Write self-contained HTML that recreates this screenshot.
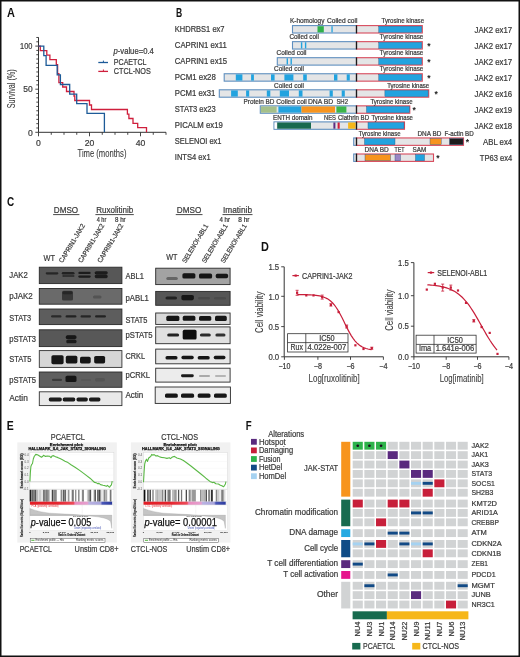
<!DOCTYPE html>
<html><head><meta charset="utf-8"><style>
html,body{margin:0;padding:0;background:#fff;overflow:hidden;width:520px;height:657px;}
svg{display:block;font-family:"Liberation Sans", sans-serif;will-change:transform;}
</style></head><body>
<svg width="520" height="657" viewBox="0 0 520 657">
<rect x="0" y="0" width="520" height="657" fill="#fff"/>
<text x="7.00" y="16.80" font-size="12.0" textLength="7.90" lengthAdjust="spacingAndGlyphs" font-weight="bold" fill="#111">A</text>
<line x1="38.50" y1="37.30" x2="38.50" y2="132.30" stroke="#333" stroke-width="1"/>
<line x1="35.30" y1="132.30" x2="38.50" y2="132.30" stroke="#333" stroke-width="0.9"/>
<line x1="36.30" y1="127.99" x2="38.50" y2="127.99" stroke="#333" stroke-width="0.9"/>
<line x1="36.30" y1="123.68" x2="38.50" y2="123.68" stroke="#333" stroke-width="0.9"/>
<line x1="36.30" y1="119.37" x2="38.50" y2="119.37" stroke="#333" stroke-width="0.9"/>
<line x1="36.30" y1="115.06" x2="38.50" y2="115.06" stroke="#333" stroke-width="0.9"/>
<line x1="36.30" y1="110.75" x2="38.50" y2="110.75" stroke="#333" stroke-width="0.9"/>
<line x1="36.30" y1="106.44" x2="38.50" y2="106.44" stroke="#333" stroke-width="0.9"/>
<line x1="36.30" y1="102.13" x2="38.50" y2="102.13" stroke="#333" stroke-width="0.9"/>
<line x1="36.30" y1="97.82" x2="38.50" y2="97.82" stroke="#333" stroke-width="0.9"/>
<line x1="36.30" y1="93.51" x2="38.50" y2="93.51" stroke="#333" stroke-width="0.9"/>
<line x1="35.30" y1="89.20" x2="38.50" y2="89.20" stroke="#333" stroke-width="0.9"/>
<line x1="36.30" y1="84.89" x2="38.50" y2="84.89" stroke="#333" stroke-width="0.9"/>
<line x1="36.30" y1="80.58" x2="38.50" y2="80.58" stroke="#333" stroke-width="0.9"/>
<line x1="36.30" y1="76.27" x2="38.50" y2="76.27" stroke="#333" stroke-width="0.9"/>
<line x1="36.30" y1="71.96" x2="38.50" y2="71.96" stroke="#333" stroke-width="0.9"/>
<line x1="36.30" y1="67.65" x2="38.50" y2="67.65" stroke="#333" stroke-width="0.9"/>
<line x1="36.30" y1="63.34" x2="38.50" y2="63.34" stroke="#333" stroke-width="0.9"/>
<line x1="36.30" y1="59.03" x2="38.50" y2="59.03" stroke="#333" stroke-width="0.9"/>
<line x1="36.30" y1="54.72" x2="38.50" y2="54.72" stroke="#333" stroke-width="0.9"/>
<line x1="36.30" y1="50.41" x2="38.50" y2="50.41" stroke="#333" stroke-width="0.9"/>
<line x1="35.30" y1="46.10" x2="38.50" y2="46.10" stroke="#333" stroke-width="0.9"/>
<line x1="36.30" y1="41.79" x2="38.50" y2="41.79" stroke="#333" stroke-width="0.9"/>
<line x1="36.30" y1="37.48" x2="38.50" y2="37.48" stroke="#333" stroke-width="0.9"/>
<line x1="38.50" y1="132.30" x2="166.00" y2="132.30" stroke="#333" stroke-width="1"/>
<line x1="38.50" y1="132.30" x2="38.50" y2="136.30" stroke="#333" stroke-width="0.9"/>
<line x1="51.25" y1="132.30" x2="51.25" y2="134.80" stroke="#333" stroke-width="0.9"/>
<line x1="64.00" y1="132.30" x2="64.00" y2="134.80" stroke="#333" stroke-width="0.9"/>
<line x1="76.75" y1="132.30" x2="76.75" y2="134.80" stroke="#333" stroke-width="0.9"/>
<line x1="89.50" y1="132.30" x2="89.50" y2="136.30" stroke="#333" stroke-width="0.9"/>
<line x1="102.25" y1="132.30" x2="102.25" y2="134.80" stroke="#333" stroke-width="0.9"/>
<line x1="115.00" y1="132.30" x2="115.00" y2="134.80" stroke="#333" stroke-width="0.9"/>
<line x1="127.75" y1="132.30" x2="127.75" y2="134.80" stroke="#333" stroke-width="0.9"/>
<line x1="140.50" y1="132.30" x2="140.50" y2="136.30" stroke="#333" stroke-width="0.9"/>
<line x1="153.25" y1="132.30" x2="153.25" y2="134.80" stroke="#333" stroke-width="0.9"/>
<line x1="166.00" y1="132.30" x2="166.00" y2="134.80" stroke="#333" stroke-width="0.9"/>
<text x="32.40" y="49.30" font-size="9.0" text-anchor="end" textLength="12.40" lengthAdjust="spacingAndGlyphs" fill="#3a3a3a" stroke="#3a3a3a" stroke-width="0.22">100</text>
<text x="32.60" y="92.40" font-size="9.0" text-anchor="end" textLength="9.40" lengthAdjust="spacingAndGlyphs" fill="#3a3a3a" stroke="#3a3a3a" stroke-width="0.22">50</text>
<text x="32.70" y="135.50" font-size="9.0" text-anchor="end" textLength="4.80" lengthAdjust="spacingAndGlyphs" fill="#3a3a3a" stroke="#3a3a3a" stroke-width="0.22">0</text>
<text x="38.50" y="145.60" font-size="9.0" text-anchor="middle" textLength="4.80" lengthAdjust="spacingAndGlyphs" fill="#3a3a3a" stroke="#3a3a3a" stroke-width="0.22">0</text>
<text x="89.50" y="145.60" font-size="9.0" text-anchor="middle" textLength="9.60" lengthAdjust="spacingAndGlyphs" fill="#3a3a3a" stroke="#3a3a3a" stroke-width="0.22">20</text>
<text x="140.50" y="145.60" font-size="9.0" text-anchor="middle" textLength="9.60" lengthAdjust="spacingAndGlyphs" fill="#3a3a3a" stroke="#3a3a3a" stroke-width="0.22">40</text>
<text x="15.00" y="88.80" font-size="10.0" text-anchor="middle" textLength="38.90" lengthAdjust="spacingAndGlyphs" fill="#3a3a3a" transform="rotate(-90 15.00 88.80)" stroke="#3a3a3a" stroke-width="0.08">Survival (%)</text>
<text x="102.00" y="157.20" font-size="10.0" text-anchor="middle" textLength="49.00" lengthAdjust="spacingAndGlyphs" fill="#3a3a3a" stroke="#3a3a3a" stroke-width="0.08">Time (months)</text>
<text x="113.5" y="53.8" font-size="8.6" fill="#3a3a3a" stroke="#3a3a3a" stroke-width="0.22" textLength="40.3" lengthAdjust="spacingAndGlyphs"><tspan font-style="italic">p</tspan>-value=0.4</text>
<line x1="98.30" y1="62.50" x2="108.00" y2="62.50" stroke="#1d5b98" stroke-width="1.3"/>
<line x1="103.40" y1="60.60" x2="103.40" y2="62.50" stroke="#1d5b98" stroke-width="1"/>
<line x1="98.30" y1="71.40" x2="108.00" y2="71.40" stroke="#cf1f3c" stroke-width="1.3"/>
<line x1="103.40" y1="69.50" x2="103.40" y2="71.40" stroke="#cf1f3c" stroke-width="1"/>
<text x="113.80" y="65.20" font-size="8.8" textLength="32.70" lengthAdjust="spacingAndGlyphs" fill="#3a3a3a" stroke="#3a3a3a" stroke-width="0.22">PCAETCL</text>
<text x="113.80" y="74.10" font-size="8.8" textLength="36.90" lengthAdjust="spacingAndGlyphs" fill="#3a3a3a" stroke="#3a3a3a" stroke-width="0.22">CTCL-NOS</text>
<path d="M38.5,46.1 H40.3 V50.6 H46.8 V55.2 H49.9 V59.7 H56.3 V64.6 H57.6 V73.7 H58.9 V82.6 H62.7 V87.0 H66.5 V91.5 H74.0 V96.0 H74.8 V100.5 H89.5 V105.0 H91.5 V109.5 H127.4 V114.2 H128.9 V118.5 H133 V123.4 H137.7 V127.7 H146.5 V132.3" stroke="#cf1f3c" stroke-width="1.3" fill="none"/>
<path d="M38.5,46.1 H43.8 V55.7 H46.1 V65.3 H57.2 V74.9 H60.4 V84.5 H69.7 V94.1 H76.7 V103.7 H87 V113.3 H104.4 V132.3" stroke="#1d5b98" stroke-width="1.3" fill="none"/>
<text x="176.00" y="16.80" font-size="12.0" textLength="6.20" lengthAdjust="spacingAndGlyphs" font-weight="bold" fill="#111">B</text>
<text x="174.80" y="31.90" font-size="8.3" textLength="49.70" lengthAdjust="spacingAndGlyphs" fill="#3a3a3a" stroke="#3a3a3a" stroke-width="0.22">KHDRBS1 ex7</text>
<text x="174.80" y="47.95" font-size="8.3" textLength="52.00" lengthAdjust="spacingAndGlyphs" fill="#3a3a3a" stroke="#3a3a3a" stroke-width="0.22">CAPRIN1 ex11</text>
<text x="174.80" y="64.00" font-size="8.3" textLength="52.30" lengthAdjust="spacingAndGlyphs" fill="#3a3a3a" stroke="#3a3a3a" stroke-width="0.22">CAPRIN1 ex15</text>
<text x="174.80" y="80.05" font-size="8.3" textLength="41.00" lengthAdjust="spacingAndGlyphs" fill="#3a3a3a" stroke="#3a3a3a" stroke-width="0.22">PCM1 ex28</text>
<text x="174.80" y="96.10" font-size="8.3" textLength="40.50" lengthAdjust="spacingAndGlyphs" fill="#3a3a3a" stroke="#3a3a3a" stroke-width="0.22">PCM1 ex31</text>
<text x="174.80" y="112.15" font-size="8.3" textLength="41.00" lengthAdjust="spacingAndGlyphs" fill="#3a3a3a" stroke="#3a3a3a" stroke-width="0.22">STAT3 ex23</text>
<text x="174.80" y="128.20" font-size="8.3" textLength="48.00" lengthAdjust="spacingAndGlyphs" fill="#3a3a3a" stroke="#3a3a3a" stroke-width="0.22">PICALM ex19</text>
<text x="174.80" y="144.25" font-size="8.3" textLength="46.70" lengthAdjust="spacingAndGlyphs" fill="#3a3a3a" stroke="#3a3a3a" stroke-width="0.22">SELENOI ex1</text>
<text x="174.80" y="160.30" font-size="8.3" textLength="35.80" lengthAdjust="spacingAndGlyphs" fill="#3a3a3a" stroke="#3a3a3a" stroke-width="0.22">INTS4 ex1</text>
<text x="512.20" y="32.80" font-size="8.3" text-anchor="end" textLength="37.70" lengthAdjust="spacingAndGlyphs" fill="#3a3a3a" stroke="#3a3a3a" stroke-width="0.22">JAK2 ex17</text>
<text x="512.20" y="48.85" font-size="8.3" text-anchor="end" textLength="37.70" lengthAdjust="spacingAndGlyphs" fill="#3a3a3a" stroke="#3a3a3a" stroke-width="0.22">JAK2 ex17</text>
<text x="512.20" y="64.90" font-size="8.3" text-anchor="end" textLength="37.70" lengthAdjust="spacingAndGlyphs" fill="#3a3a3a" stroke="#3a3a3a" stroke-width="0.22">JAK2 ex17</text>
<text x="512.20" y="80.95" font-size="8.3" text-anchor="end" textLength="37.70" lengthAdjust="spacingAndGlyphs" fill="#3a3a3a" stroke="#3a3a3a" stroke-width="0.22">JAK2 ex17</text>
<text x="512.20" y="97.00" font-size="8.3" text-anchor="end" textLength="37.70" lengthAdjust="spacingAndGlyphs" fill="#3a3a3a" stroke="#3a3a3a" stroke-width="0.22">JAK2 ex16</text>
<text x="512.20" y="113.05" font-size="8.3" text-anchor="end" textLength="37.70" lengthAdjust="spacingAndGlyphs" fill="#3a3a3a" stroke="#3a3a3a" stroke-width="0.22">JAK2 ex19</text>
<text x="512.20" y="129.10" font-size="8.3" text-anchor="end" textLength="37.70" lengthAdjust="spacingAndGlyphs" fill="#3a3a3a" stroke="#3a3a3a" stroke-width="0.22">JAK2 ex18</text>
<text x="512.20" y="145.15" font-size="8.3" text-anchor="end" textLength="29.20" lengthAdjust="spacingAndGlyphs" fill="#3a3a3a" stroke="#3a3a3a" stroke-width="0.22">ABL ex4</text>
<text x="512.20" y="161.20" font-size="8.3" text-anchor="end" textLength="32.40" lengthAdjust="spacingAndGlyphs" fill="#3a3a3a" stroke="#3a3a3a" stroke-width="0.22">TP63 ex4</text>
<rect x="292.50" y="25.60" width="64.00" height="7.40" fill="#e4e5e6" stroke="#5f8fbf" stroke-width="1.1"/>
<rect x="317.50" y="26.20" width="6.30" height="6.20" fill="#2fb04a"/>
<rect x="331.40" y="26.20" width="1.30" height="6.20" fill="#22a3df"/>
<rect x="356.50" y="25.60" width="65.80" height="7.40" fill="#e4e5e6" stroke="#d84a5c" stroke-width="1.1"/>
<rect x="378.80" y="26.20" width="42.90" height="6.20" fill="#22a3df" stroke="#2f4f7a" stroke-width="0.4"/>
<line x1="356.50" y1="25.30" x2="356.50" y2="33.30" stroke="#1a1a1a" stroke-width="1.3"/>
<text x="307.20" y="23.30" font-size="6.6" text-anchor="middle" textLength="34.50" lengthAdjust="spacingAndGlyphs" fill="#3a3a3a" stroke="#3a3a3a" stroke-width="0.22">K-homology</text>
<text x="342.20" y="23.30" font-size="6.6" text-anchor="middle" textLength="30.50" lengthAdjust="spacingAndGlyphs" fill="#3a3a3a" stroke="#3a3a3a" stroke-width="0.22">Coiled coil</text>
<text x="402.80" y="23.30" font-size="6.6" text-anchor="middle" textLength="42.50" lengthAdjust="spacingAndGlyphs" fill="#3a3a3a" stroke="#3a3a3a" stroke-width="0.22">Tyrosine kinase</text>
<rect x="292.50" y="41.65" width="64.00" height="7.40" fill="#e4e5e6" stroke="#5f8fbf" stroke-width="1.1"/>
<rect x="300.90" y="42.25" width="1.40" height="6.20" fill="#22a3df"/>
<rect x="304.90" y="42.25" width="1.40" height="6.20" fill="#22a3df"/>
<rect x="356.50" y="41.65" width="65.80" height="7.40" fill="#e4e5e6" stroke="#d84a5c" stroke-width="1.1"/>
<rect x="378.80" y="42.25" width="42.90" height="6.20" fill="#22a3df" stroke="#2f4f7a" stroke-width="0.4"/>
<line x1="356.50" y1="41.35" x2="356.50" y2="49.35" stroke="#1a1a1a" stroke-width="1.3"/>
<text x="304.20" y="39.35" font-size="6.6" text-anchor="middle" textLength="29.50" lengthAdjust="spacingAndGlyphs" fill="#3a3a3a" stroke="#3a3a3a" stroke-width="0.22">Coiled coil</text>
<text x="401.50" y="39.35" font-size="6.6" text-anchor="middle" textLength="43.50" lengthAdjust="spacingAndGlyphs" fill="#3a3a3a" stroke="#3a3a3a" stroke-width="0.22">Tyrosine kinase</text>
<text x="429.00" y="48.95" font-size="8.5" text-anchor="middle" font-weight="bold" fill="#222">*</text>
<rect x="277.30" y="57.70" width="79.20" height="7.40" fill="#e4e5e6" stroke="#5f8fbf" stroke-width="1.1"/>
<rect x="286.60" y="58.30" width="1.40" height="6.20" fill="#22a3df"/>
<rect x="290.50" y="58.30" width="1.40" height="6.20" fill="#22a3df"/>
<rect x="356.50" y="57.70" width="65.80" height="7.40" fill="#e4e5e6" stroke="#d84a5c" stroke-width="1.1"/>
<rect x="378.80" y="58.30" width="42.90" height="6.20" fill="#22a3df" stroke="#2f4f7a" stroke-width="0.4"/>
<line x1="356.50" y1="57.40" x2="356.50" y2="65.40" stroke="#1a1a1a" stroke-width="1.3"/>
<text x="291.50" y="55.40" font-size="6.6" text-anchor="middle" textLength="30.00" lengthAdjust="spacingAndGlyphs" fill="#3a3a3a" stroke="#3a3a3a" stroke-width="0.22">Coiled coil</text>
<text x="401.50" y="55.40" font-size="6.6" text-anchor="middle" textLength="43.50" lengthAdjust="spacingAndGlyphs" fill="#3a3a3a" stroke="#3a3a3a" stroke-width="0.22">Tyrosine kinase</text>
<text x="429.00" y="65.00" font-size="8.5" text-anchor="middle" font-weight="bold" fill="#222">*</text>
<rect x="224.20" y="73.75" width="132.30" height="7.40" fill="#e4e5e6" stroke="#5f8fbf" stroke-width="1.1"/>
<rect x="235.80" y="74.35" width="6.60" height="6.20" fill="#22a3df"/>
<rect x="251.10" y="74.35" width="2.80" height="6.20" fill="#22a3df"/>
<rect x="271.00" y="74.35" width="3.60" height="6.20" fill="#22a3df"/>
<rect x="284.40" y="74.35" width="9.00" height="6.20" fill="#22a3df"/>
<rect x="303.20" y="74.35" width="3.60" height="6.20" fill="#22a3df"/>
<rect x="334.00" y="74.35" width="3.40" height="6.20" fill="#22a3df"/>
<rect x="346.70" y="74.35" width="3.10" height="6.20" fill="#22a3df"/>
<rect x="356.50" y="73.75" width="65.80" height="7.40" fill="#e4e5e6" stroke="#d84a5c" stroke-width="1.1"/>
<rect x="378.80" y="74.35" width="42.90" height="6.20" fill="#22a3df" stroke="#2f4f7a" stroke-width="0.4"/>
<line x1="356.50" y1="73.45" x2="356.50" y2="81.45" stroke="#1a1a1a" stroke-width="1.3"/>
<text x="289.00" y="71.45" font-size="6.6" text-anchor="middle" textLength="30.00" lengthAdjust="spacingAndGlyphs" fill="#3a3a3a" stroke="#3a3a3a" stroke-width="0.22">Coiled coil</text>
<text x="401.50" y="71.45" font-size="6.6" text-anchor="middle" textLength="43.50" lengthAdjust="spacingAndGlyphs" fill="#3a3a3a" stroke="#3a3a3a" stroke-width="0.22">Tyrosine kinase</text>
<text x="429.00" y="81.05" font-size="8.5" text-anchor="middle" font-weight="bold" fill="#222">*</text>
<rect x="219.30" y="89.80" width="137.20" height="7.40" fill="#e4e5e6" stroke="#5f8fbf" stroke-width="1.1"/>
<rect x="231.10" y="90.40" width="6.70" height="6.20" fill="#22a3df"/>
<rect x="246.10" y="90.40" width="3.10" height="6.20" fill="#22a3df"/>
<rect x="266.80" y="90.40" width="3.50" height="6.20" fill="#22a3df"/>
<rect x="279.80" y="90.40" width="9.20" height="6.20" fill="#22a3df"/>
<rect x="298.80" y="90.40" width="3.70" height="6.20" fill="#22a3df"/>
<rect x="329.60" y="90.40" width="3.20" height="6.20" fill="#22a3df"/>
<rect x="341.70" y="90.40" width="3.10" height="6.20" fill="#22a3df"/>
<rect x="356.50" y="89.80" width="72.20" height="7.40" fill="#e4e5e6" stroke="#d84a5c" stroke-width="1.1"/>
<rect x="384.90" y="90.40" width="43.20" height="6.20" fill="#22a3df" stroke="#2f4f7a" stroke-width="0.4"/>
<line x1="356.50" y1="89.50" x2="356.50" y2="97.50" stroke="#1a1a1a" stroke-width="1.3"/>
<text x="289.00" y="87.50" font-size="6.6" text-anchor="middle" textLength="30.00" lengthAdjust="spacingAndGlyphs" fill="#3a3a3a" stroke="#3a3a3a" stroke-width="0.22">Coiled coil</text>
<text x="408.20" y="87.50" font-size="6.6" text-anchor="middle" textLength="42.00" lengthAdjust="spacingAndGlyphs" fill="#3a3a3a" stroke="#3a3a3a" stroke-width="0.22">Tyrosine kinase</text>
<text x="436.20" y="97.10" font-size="8.5" text-anchor="middle" font-weight="bold" fill="#222">*</text>
<rect x="260.30" y="105.85" width="96.20" height="7.40" fill="#e4e5e6" stroke="#5f8fbf" stroke-width="1.1"/>
<rect x="260.80" y="106.45" width="15.80" height="6.20" fill="#a5c08a"/>
<rect x="278.40" y="106.45" width="23.10" height="6.20" fill="#22a3df"/>
<rect x="301.50" y="106.45" width="33.50" height="6.20" fill="#f7941e"/>
<rect x="336.40" y="106.45" width="10.00" height="6.20" fill="#3bb54a"/>
<rect x="356.50" y="105.85" width="53.30" height="7.40" fill="#e4e5e6" stroke="#d84a5c" stroke-width="1.1"/>
<rect x="366.50" y="106.45" width="42.90" height="6.20" fill="#22a3df" stroke="#2f4f7a" stroke-width="0.4"/>
<line x1="356.50" y1="105.55" x2="356.50" y2="113.55" stroke="#1a1a1a" stroke-width="1.3"/>
<text x="259.00" y="103.55" font-size="6.6" text-anchor="middle" textLength="31.00" lengthAdjust="spacingAndGlyphs" fill="#3a3a3a" stroke="#3a3a3a" stroke-width="0.22">Protein BD</text>
<text x="291.50" y="103.55" font-size="6.6" text-anchor="middle" textLength="30.60" lengthAdjust="spacingAndGlyphs" fill="#3a3a3a" stroke="#3a3a3a" stroke-width="0.22">Coiled coil</text>
<text x="320.60" y="103.55" font-size="6.6" text-anchor="middle" textLength="25.40" lengthAdjust="spacingAndGlyphs" fill="#3a3a3a" stroke="#3a3a3a" stroke-width="0.22">DNA BD</text>
<text x="342.20" y="103.55" font-size="6.6" text-anchor="middle" textLength="11.60" lengthAdjust="spacingAndGlyphs" fill="#3a3a3a" stroke="#3a3a3a" stroke-width="0.22">SH2</text>
<text x="391.50" y="103.55" font-size="6.6" text-anchor="middle" textLength="42.20" lengthAdjust="spacingAndGlyphs" fill="#3a3a3a" stroke="#3a3a3a" stroke-width="0.22">Tyrosine kinase</text>
<text x="414.20" y="113.15" font-size="8.5" text-anchor="middle" font-weight="bold" fill="#222">*</text>
<rect x="274.00" y="121.90" width="82.50" height="7.40" fill="#e4e5e6" stroke="#5f8fbf" stroke-width="1.1"/>
<rect x="274.60" y="122.50" width="2.20" height="6.20" fill="#ffffff"/>
<rect x="277.20" y="122.50" width="33.80" height="6.20" fill="#17694f"/>
<rect x="333.40" y="122.50" width="2.00" height="6.20" fill="#5a2d82"/>
<rect x="337.60" y="122.50" width="2.10" height="6.20" fill="#cf1f3c"/>
<rect x="348.10" y="122.50" width="7.50" height="6.20" fill="#f6b719"/>
<rect x="356.50" y="121.90" width="48.00" height="7.40" fill="#e4e5e6" stroke="#d84a5c" stroke-width="1.1"/>
<rect x="368.00" y="122.50" width="36.00" height="6.20" fill="#22a3df" stroke="#2f4f7a" stroke-width="0.4"/>
<line x1="356.50" y1="121.60" x2="356.50" y2="129.60" stroke="#1a1a1a" stroke-width="1.3"/>
<text x="292.70" y="119.60" font-size="6.6" text-anchor="middle" textLength="39.50" lengthAdjust="spacingAndGlyphs" fill="#3a3a3a" stroke="#3a3a3a" stroke-width="0.22">ENTH domain</text>
<text x="330.00" y="119.60" font-size="6.6" text-anchor="middle" textLength="12.00" lengthAdjust="spacingAndGlyphs" fill="#3a3a3a" stroke="#3a3a3a" stroke-width="0.22">NES</text>
<text x="353.50" y="119.60" font-size="6.6" text-anchor="middle" textLength="31.20" lengthAdjust="spacingAndGlyphs" fill="#3a3a3a" stroke="#3a3a3a" stroke-width="0.22">Clathrin BD</text>
<text x="392.20" y="119.60" font-size="6.6" text-anchor="middle" textLength="41.50" lengthAdjust="spacingAndGlyphs" fill="#3a3a3a" stroke="#3a3a3a" stroke-width="0.22">Tyrosine kinase</text>
<rect x="353.70" y="137.95" width="2.80" height="7.40" fill="#e4e5e6" stroke="#5f8fbf" stroke-width="1.1"/>
<rect x="356.50" y="137.95" width="107.00" height="7.40" fill="#e4e5e6" stroke="#d84a5c" stroke-width="1.1"/>
<rect x="364.50" y="138.55" width="30.50" height="6.20" fill="#22a3df" stroke="#2f4f7a" stroke-width="0.4"/>
<rect x="430.00" y="138.55" width="11.20" height="6.20" fill="#f7941e" stroke="#2f4f7a" stroke-width="0.4"/>
<rect x="449.50" y="138.55" width="13.50" height="6.20" fill="#1c1c1c" stroke="#2f4f7a" stroke-width="0.4"/>
<line x1="356.50" y1="137.65" x2="356.50" y2="145.65" stroke="#1a1a1a" stroke-width="1.3"/>
<text x="379.60" y="135.65" font-size="6.6" text-anchor="middle" textLength="41.80" lengthAdjust="spacingAndGlyphs" fill="#3a3a3a" stroke="#3a3a3a" stroke-width="0.22">Tyrosine kinase</text>
<text x="429.40" y="135.65" font-size="6.6" text-anchor="middle" textLength="23.80" lengthAdjust="spacingAndGlyphs" fill="#3a3a3a" stroke="#3a3a3a" stroke-width="0.22">DNA BD</text>
<text x="459.10" y="135.65" font-size="6.6" text-anchor="middle" textLength="29.30" lengthAdjust="spacingAndGlyphs" fill="#3a3a3a" stroke="#3a3a3a" stroke-width="0.22">F-actin BD</text>
<text x="467.50" y="145.25" font-size="8.5" text-anchor="middle" font-weight="bold" fill="#222">*</text>
<rect x="353.70" y="154.00" width="2.80" height="7.40" fill="#e4e5e6" stroke="#5f8fbf" stroke-width="1.1"/>
<rect x="356.50" y="154.00" width="77.00" height="7.40" fill="#e4e5e6" stroke="#d84a5c" stroke-width="1.1"/>
<rect x="365.00" y="154.60" width="25.50" height="6.20" fill="#f7941e" stroke="#2f4f7a" stroke-width="0.4"/>
<rect x="395.00" y="154.60" width="5.50" height="6.20" fill="#9b86c4" stroke="#2f4f7a" stroke-width="0.4"/>
<rect x="415.50" y="154.60" width="9.00" height="6.20" fill="#22a3df" stroke="#2f4f7a" stroke-width="0.4"/>
<line x1="356.50" y1="153.70" x2="356.50" y2="161.70" stroke="#1a1a1a" stroke-width="1.3"/>
<text x="376.60" y="151.70" font-size="6.6" text-anchor="middle" textLength="24.20" lengthAdjust="spacingAndGlyphs" fill="#3a3a3a" stroke="#3a3a3a" stroke-width="0.22">DNA BD</text>
<text x="399.50" y="151.70" font-size="6.6" text-anchor="middle" textLength="10.00" lengthAdjust="spacingAndGlyphs" fill="#3a3a3a" stroke="#3a3a3a" stroke-width="0.22">TET</text>
<text x="419.40" y="151.70" font-size="6.6" text-anchor="middle" textLength="13.80" lengthAdjust="spacingAndGlyphs" fill="#3a3a3a" stroke="#3a3a3a" stroke-width="0.22">SAM</text>
<text x="438.00" y="161.30" font-size="8.5" text-anchor="middle" font-weight="bold" fill="#222">*</text>
<text x="7.10" y="205.60" font-size="12.0" textLength="7.20" lengthAdjust="spacingAndGlyphs" font-weight="bold" fill="#111">C</text>
<text x="53.80" y="213.00" font-size="9.0" textLength="24.30" lengthAdjust="spacingAndGlyphs" fill="#3a3a3a" stroke="#3a3a3a" stroke-width="0.22">DMSO</text>
<line x1="53.10" y1="214.60" x2="79.40" y2="214.60" stroke="#333" stroke-width="0.9"/>
<text x="96.20" y="213.00" font-size="9.0" textLength="37.10" lengthAdjust="spacingAndGlyphs" fill="#3a3a3a" stroke="#3a3a3a" stroke-width="0.22">Ruxolitinib</text>
<line x1="95.40" y1="214.60" x2="133.80" y2="214.60" stroke="#333" stroke-width="0.9"/>
<text x="96.70" y="222.00" font-size="6.4" textLength="9.60" lengthAdjust="spacingAndGlyphs" fill="#3a3a3a" stroke="#3a3a3a" stroke-width="0.22">4 hr</text>
<text x="115.00" y="222.00" font-size="6.4" textLength="10.60" lengthAdjust="spacingAndGlyphs" fill="#3a3a3a" stroke="#3a3a3a" stroke-width="0.22">8 hr</text>
<text x="43.50" y="260.50" font-size="9.5" textLength="11.50" lengthAdjust="spacingAndGlyphs" fill="#3a3a3a" stroke="#3a3a3a" stroke-width="0.22">WT</text>
<text x="62.60" y="263.30" font-size="6.8" textLength="44.00" lengthAdjust="spacingAndGlyphs" fill="#3a3a3a" transform="rotate(-59 62.60 263.30)" stroke="#3a3a3a" stroke-width="0.22">CAPRIN1-JAK2</text>
<text x="81.80" y="263.30" font-size="6.8" textLength="44.00" lengthAdjust="spacingAndGlyphs" fill="#3a3a3a" transform="rotate(-59 81.80 263.30)" stroke="#3a3a3a" stroke-width="0.22">CAPRIN1-JAK2</text>
<text x="101.00" y="263.30" font-size="6.8" textLength="44.00" lengthAdjust="spacingAndGlyphs" fill="#3a3a3a" transform="rotate(-59 101.00 263.30)" stroke="#3a3a3a" stroke-width="0.22">CAPRIN1-JAK2</text>
<text x="176.75" y="213.00" font-size="9.0" textLength="24.50" lengthAdjust="spacingAndGlyphs" fill="#3a3a3a" stroke="#3a3a3a" stroke-width="0.22">DMSO</text>
<line x1="175.75" y1="214.60" x2="202.50" y2="214.60" stroke="#333" stroke-width="0.9"/>
<text x="223.00" y="213.00" font-size="9.0" textLength="29.00" lengthAdjust="spacingAndGlyphs" fill="#3a3a3a" stroke="#3a3a3a" stroke-width="0.22">Imatinib</text>
<line x1="222.50" y1="214.60" x2="252.50" y2="214.60" stroke="#333" stroke-width="0.9"/>
<text x="219.50" y="222.00" font-size="6.4" textLength="10.50" lengthAdjust="spacingAndGlyphs" fill="#3a3a3a" stroke="#3a3a3a" stroke-width="0.22">4 hr</text>
<text x="238.30" y="222.00" font-size="6.4" textLength="11.20" lengthAdjust="spacingAndGlyphs" fill="#3a3a3a" stroke="#3a3a3a" stroke-width="0.22">8 hr</text>
<text x="166.30" y="259.60" font-size="9.5" textLength="11.20" lengthAdjust="spacingAndGlyphs" fill="#3a3a3a" stroke="#3a3a3a" stroke-width="0.22">WT</text>
<text x="185.80" y="263.50" font-size="6.8" textLength="44.00" lengthAdjust="spacingAndGlyphs" fill="#3a3a3a" transform="rotate(-59 185.80 263.50)" stroke="#3a3a3a" stroke-width="0.22">SELENOI-ABL1</text>
<text x="205.40" y="263.50" font-size="6.8" textLength="44.00" lengthAdjust="spacingAndGlyphs" fill="#3a3a3a" transform="rotate(-59 205.40 263.50)" stroke="#3a3a3a" stroke-width="0.22">SELENOI-ABL1</text>
<text x="224.30" y="263.50" font-size="6.8" textLength="44.00" lengthAdjust="spacingAndGlyphs" fill="#3a3a3a" transform="rotate(-59 224.30 263.50)" stroke="#3a3a3a" stroke-width="0.22">SELENOI-ABL1</text>
<defs><filter id="bl" x="-30%" y="-60%" width="160%" height="220%"><feGaussianBlur stdDeviation="0.65"/></filter><filter id="bl2" x="-30%" y="-60%" width="160%" height="220%"><feGaussianBlur stdDeviation="0.9"/></filter></defs>
<rect x="39.30" y="267.20" width="82.60" height="16.40" fill="#575757" stroke="#2a2a2a" stroke-width="0.9"/>
<g filter="url(#bl)"><rect x="45.70" y="272.20" width="12.70" height="2.20" rx="1.10" fill="#262626" opacity="1"/><rect x="61.80" y="272.00" width="12.70" height="2.60" rx="1.30" fill="#222" opacity="1"/><rect x="62.30" y="275.00" width="12.20" height="2.00" rx="1.00" fill="#303030" opacity="1"/><rect x="78.30" y="271.80" width="12.40" height="2.20" rx="1.10" fill="#1c1c1c" opacity="1"/><rect x="78.30" y="275.40" width="12.40" height="2.40" rx="1.20" fill="#1c1c1c" opacity="1"/><rect x="94.70" y="271.20" width="13.00" height="3.20" rx="1.60" fill="#1a1a1a" opacity="1"/><rect x="94.70" y="274.60" width="13.00" height="3.60" rx="1.60" fill="#1e1e1e" opacity="1"/></g>
<rect x="39.30" y="288.50" width="82.60" height="15.70" fill="#6a6a6a" stroke="#2a2a2a" stroke-width="0.9"/>
<g filter="url(#bl)"><rect x="62.00" y="290.80" width="11.00" height="9.80" rx="1.60" fill="#383838" opacity="1"/><rect x="62.50" y="291.20" width="10.00" height="3.00" rx="1.50" fill="#262626" opacity="1"/><rect x="93.00" y="295.50" width="8.50" height="3.00" rx="1.50" fill="#525252" opacity="1"/></g>
<rect x="39.30" y="309.00" width="82.60" height="15.60" fill="#5d5d5d" stroke="#2a2a2a" stroke-width="0.9"/>
<g filter="url(#bl)"><rect x="51.00" y="315.30" width="10.50" height="2.30" rx="1.15" fill="#2a2a2a" opacity="1"/><rect x="65.50" y="315.30" width="11.00" height="2.30" rx="1.15" fill="#222" opacity="1"/><rect x="80.50" y="315.30" width="10.50" height="2.30" rx="1.15" fill="#262626" opacity="1"/><rect x="95.00" y="315.30" width="11.00" height="2.30" rx="1.15" fill="#222" opacity="1"/></g>
<rect x="39.30" y="329.80" width="82.60" height="16.80" fill="#585858" stroke="#2a2a2a" stroke-width="0.9"/>
<g filter="url(#bl)"><rect x="65.80" y="335.20" width="10.70" height="3.80" rx="1.60" fill="#151515" opacity="1"/><rect x="66.30" y="339.60" width="10.20" height="3.70" rx="1.60" fill="#1a1a1a" opacity="1"/></g>
<rect x="39.30" y="350.60" width="82.60" height="16.80" fill="#d6d6d6" stroke="#333" stroke-width="0.9"/>
<g filter="url(#bl)"><rect x="51.40" y="355.20" width="12.20" height="9.00" rx="1.60" fill="#141414" opacity="1"/><rect x="65.80" y="355.80" width="11.60" height="7.60" rx="1.60" fill="#141414" opacity="1"/><rect x="80.00" y="356.80" width="10.70" height="6.60" rx="1.60" fill="#141414" opacity="1"/><rect x="94.20" y="356.00" width="10.90" height="7.40" rx="1.60" fill="#141414" opacity="1"/></g>
<rect x="39.30" y="372.00" width="82.60" height="15.30" fill="#5f5f5f" stroke="#2a2a2a" stroke-width="0.9"/>
<g filter="url(#bl)"><rect x="52.00" y="378.80" width="10.00" height="2.20" rx="1.10" fill="#3a3a3a" opacity="1"/><rect x="65.50" y="375.80" width="11.00" height="6.20" rx="1.60" fill="#151515" opacity="1"/><rect x="81.00" y="379.00" width="10.00" height="2.00" rx="1.00" fill="#555" opacity="0.7"/><rect x="95.00" y="378.00" width="10.00" height="3.50" rx="1.60" fill="#505050" opacity="0.7"/></g>
<rect x="39.30" y="391.80" width="82.60" height="13.80" fill="#e9e9e9" stroke="#333" stroke-width="0.9"/>
<g filter="url(#bl)"><rect x="48.80" y="397.40" width="13.00" height="4.00" rx="1.60" fill="#1a1a1a" opacity="1"/><rect x="62.70" y="397.40" width="12.50" height="4.00" rx="1.60" fill="#1a1a1a" opacity="1"/><rect x="76.50" y="397.40" width="11.30" height="4.00" rx="1.60" fill="#1a1a1a" opacity="1"/><rect x="89.00" y="397.40" width="11.40" height="4.00" rx="1.60" fill="#1a1a1a" opacity="1"/></g>
<rect x="155.70" y="268.20" width="74.40" height="16.40" fill="#a3a3a3" stroke="#2a2a2a" stroke-width="0.9"/>
<g filter="url(#bl)"><rect x="166.30" y="277.00" width="11.50" height="3.00" rx="1.50" fill="#666" opacity="1"/><rect x="182.40" y="273.20" width="13.00" height="5.40" rx="1.60" fill="#161616" opacity="1"/><rect x="199.00" y="273.40" width="13.10" height="5.20" rx="1.60" fill="#161616" opacity="1"/><rect x="215.70" y="273.80" width="12.40" height="4.40" rx="1.60" fill="#161616" opacity="1"/></g>
<rect x="155.70" y="291.40" width="74.40" height="13.90" fill="#565656" stroke="#2a2a2a" stroke-width="0.9"/>
<g filter="url(#bl)"><rect x="165.50" y="296.40" width="11.50" height="3.20" rx="1.60" fill="#222" opacity="1"/><rect x="181.40" y="295.00" width="12.40" height="5.20" rx="1.60" fill="#151515" opacity="1"/><rect x="198.00" y="297.00" width="12.00" height="2.50" rx="1.25" fill="#4a4a4a" opacity="1"/><rect x="214.00" y="297.00" width="12.00" height="2.50" rx="1.25" fill="#4c4c4c" opacity="1"/></g>
<rect x="155.70" y="313.00" width="74.40" height="11.40" fill="#d9d9d9" stroke="#2a2a2a" stroke-width="0.9"/>
<g filter="url(#bl)"><rect x="166.30" y="315.80" width="13.10" height="5.20" rx="1.60" fill="#161616" opacity="1"/><rect x="182.70" y="315.80" width="12.70" height="5.00" rx="1.60" fill="#161616" opacity="1"/><rect x="199.00" y="316.00" width="12.30" height="4.80" rx="1.60" fill="#161616" opacity="1"/><rect x="215.00" y="315.80" width="11.80" height="5.20" rx="1.60" fill="#161616" opacity="1"/></g>
<rect x="155.70" y="326.90" width="74.40" height="16.80" fill="#e0e0e0" stroke="#2a2a2a" stroke-width="0.9"/>
<g filter="url(#bl)"><rect x="167.20" y="333.60" width="11.90" height="3.00" rx="1.50" fill="#222" opacity="1"/><rect x="182.70" y="329.80" width="13.90" height="9.80" rx="1.60" fill="#111" opacity="1"/><rect x="199.90" y="333.40" width="10.90" height="3.20" rx="1.60" fill="#2a2a2a" opacity="1"/><rect x="215.40" y="333.60" width="10.10" height="3.00" rx="1.50" fill="#333" opacity="1"/></g>
<rect x="155.70" y="349.10" width="74.40" height="14.70" fill="#e6e6e6" stroke="#2a2a2a" stroke-width="0.9"/>
<g filter="url(#bl)"><rect x="165.50" y="356.00" width="12.00" height="3.60" rx="1.60" fill="#161616" opacity="1"/><rect x="181.40" y="355.80" width="12.40" height="3.40" rx="1.60" fill="#161616" opacity="1"/><rect x="197.70" y="356.00" width="12.00" height="3.60" rx="1.60" fill="#161616" opacity="1"/><rect x="213.70" y="355.80" width="11.80" height="3.40" rx="1.60" fill="#161616" opacity="1"/></g>
<rect x="155.70" y="368.20" width="74.40" height="13.90" fill="#ececec" stroke="#2a2a2a" stroke-width="0.9"/>
<g filter="url(#bl)"><rect x="181.00" y="374.30" width="12.80" height="2.90" rx="1.45" fill="#1a1a1a" opacity="1"/><rect x="199.00" y="375.00" width="11.00" height="2.00" rx="1.00" fill="#aaa" opacity="1"/><rect x="215.00" y="375.00" width="11.00" height="2.00" rx="1.00" fill="#b5b5b5" opacity="1"/></g>
<rect x="155.20" y="387.00" width="75.20" height="16.40" fill="#ececec" stroke="#2a2a2a" stroke-width="0.9"/>
<g filter="url(#bl)"><rect x="165.00" y="393.40" width="12.80" height="4.40" rx="1.60" fill="#161616" opacity="1"/><rect x="181.00" y="393.40" width="13.10" height="4.40" rx="1.60" fill="#161616" opacity="1"/><rect x="197.70" y="393.40" width="12.80" height="4.40" rx="1.60" fill="#161616" opacity="1"/><rect x="214.00" y="393.40" width="12.80" height="4.40" rx="1.60" fill="#161616" opacity="1"/></g>
<text x="9.30" y="278.00" font-size="8.3" textLength="18.50" lengthAdjust="spacingAndGlyphs" fill="#3a3a3a" stroke="#3a3a3a" stroke-width="0.22">JAK2</text>
<text x="9.30" y="298.50" font-size="8.3" textLength="23.50" lengthAdjust="spacingAndGlyphs" fill="#3a3a3a" stroke="#3a3a3a" stroke-width="0.22">pJAK2</text>
<text x="9.30" y="321.00" font-size="8.3" textLength="21.80" lengthAdjust="spacingAndGlyphs" fill="#3a3a3a" stroke="#3a3a3a" stroke-width="0.22">STAT3</text>
<text x="9.30" y="341.70" font-size="8.3" textLength="26.80" lengthAdjust="spacingAndGlyphs" fill="#3a3a3a" stroke="#3a3a3a" stroke-width="0.22">pSTAT3</text>
<text x="9.30" y="362.00" font-size="8.3" textLength="22.20" lengthAdjust="spacingAndGlyphs" fill="#3a3a3a" stroke="#3a3a3a" stroke-width="0.22">STAT5</text>
<text x="9.30" y="383.00" font-size="8.3" textLength="26.80" lengthAdjust="spacingAndGlyphs" fill="#3a3a3a" stroke="#3a3a3a" stroke-width="0.22">pSTAT5</text>
<text x="9.30" y="400.50" font-size="8.3" textLength="18.50" lengthAdjust="spacingAndGlyphs" fill="#3a3a3a" stroke="#3a3a3a" stroke-width="0.22">Actin</text>
<text x="125.50" y="279.20" font-size="8.3" textLength="18.30" lengthAdjust="spacingAndGlyphs" fill="#3a3a3a" stroke="#3a3a3a" stroke-width="0.22">ABL1</text>
<text x="125.50" y="300.50" font-size="8.3" textLength="23.30" lengthAdjust="spacingAndGlyphs" fill="#3a3a3a" stroke="#3a3a3a" stroke-width="0.22">pABL1</text>
<text x="125.50" y="322.50" font-size="8.3" textLength="22.00" lengthAdjust="spacingAndGlyphs" fill="#3a3a3a" stroke="#3a3a3a" stroke-width="0.22">STAT5</text>
<text x="125.50" y="338.00" font-size="8.3" textLength="27.00" lengthAdjust="spacingAndGlyphs" fill="#3a3a3a" stroke="#3a3a3a" stroke-width="0.22">pSTAT5</text>
<text x="125.50" y="359.20" font-size="8.3" textLength="19.50" lengthAdjust="spacingAndGlyphs" fill="#3a3a3a" stroke="#3a3a3a" stroke-width="0.22">CRKL</text>
<text x="125.50" y="377.50" font-size="8.3" textLength="24.50" lengthAdjust="spacingAndGlyphs" fill="#3a3a3a" stroke="#3a3a3a" stroke-width="0.22">pCRKL</text>
<text x="125.50" y="397.80" font-size="8.3" textLength="17.80" lengthAdjust="spacingAndGlyphs" fill="#3a3a3a" stroke="#3a3a3a" stroke-width="0.22">Actin</text>
<text x="261.00" y="250.70" font-size="12.0" textLength="7.90" lengthAdjust="spacingAndGlyphs" font-weight="bold" fill="#111">D</text>
<line x1="284.20" y1="266.80" x2="284.20" y2="356.80" stroke="#333" stroke-width="1"/>
<line x1="284.20" y1="356.80" x2="383.40" y2="356.80" stroke="#333" stroke-width="1"/>
<line x1="281.20" y1="356.80" x2="284.20" y2="356.80" stroke="#333" stroke-width="0.9"/>
<text x="279.20" y="360.00" font-size="9.3" text-anchor="end" textLength="10.80" lengthAdjust="spacingAndGlyphs" fill="#3a3a3a" stroke="#3a3a3a" stroke-width="0.22">0.0</text>
<line x1="281.20" y1="326.60" x2="284.20" y2="326.60" stroke="#333" stroke-width="0.9"/>
<text x="279.20" y="329.80" font-size="9.3" text-anchor="end" textLength="10.80" lengthAdjust="spacingAndGlyphs" fill="#3a3a3a" stroke="#3a3a3a" stroke-width="0.22">0.5</text>
<line x1="281.20" y1="296.30" x2="284.20" y2="296.30" stroke="#333" stroke-width="0.9"/>
<text x="279.20" y="299.50" font-size="9.3" text-anchor="end" textLength="10.80" lengthAdjust="spacingAndGlyphs" fill="#3a3a3a" stroke="#3a3a3a" stroke-width="0.22">1.0</text>
<line x1="281.20" y1="266.80" x2="284.20" y2="266.80" stroke="#333" stroke-width="0.9"/>
<text x="279.20" y="270.00" font-size="9.3" text-anchor="end" textLength="10.80" lengthAdjust="spacingAndGlyphs" fill="#3a3a3a" stroke="#3a3a3a" stroke-width="0.22">1.5</text>
<line x1="284.40" y1="356.80" x2="284.40" y2="359.80" stroke="#333" stroke-width="0.9"/>
<text x="284.40" y="369.00" font-size="8.6" text-anchor="middle" textLength="12.00" lengthAdjust="spacingAndGlyphs" fill="#3a3a3a" stroke="#3a3a3a" stroke-width="0.22">−10</text>
<line x1="317.90" y1="356.80" x2="317.90" y2="359.80" stroke="#333" stroke-width="0.9"/>
<text x="317.90" y="369.00" font-size="8.6" text-anchor="middle" textLength="8.20" lengthAdjust="spacingAndGlyphs" fill="#3a3a3a" stroke="#3a3a3a" stroke-width="0.22">−8</text>
<line x1="350.50" y1="356.80" x2="350.50" y2="359.80" stroke="#333" stroke-width="0.9"/>
<text x="350.50" y="369.00" font-size="8.6" text-anchor="middle" textLength="8.20" lengthAdjust="spacingAndGlyphs" fill="#3a3a3a" stroke="#3a3a3a" stroke-width="0.22">−6</text>
<line x1="383.40" y1="356.80" x2="383.40" y2="359.80" stroke="#333" stroke-width="0.9"/>
<text x="383.40" y="369.00" font-size="8.6" text-anchor="middle" textLength="8.20" lengthAdjust="spacingAndGlyphs" fill="#3a3a3a" stroke="#3a3a3a" stroke-width="0.22">−4</text>
<text x="263.20" y="312.30" font-size="10.0" text-anchor="middle" textLength="41.20" lengthAdjust="spacingAndGlyphs" fill="#3a3a3a" transform="rotate(-90 263.20 312.30)" stroke="#3a3a3a" stroke-width="0.08">Cell viability</text>
<text x="334.10" y="381.80" font-size="10.0" text-anchor="middle" textLength="51.00" lengthAdjust="spacingAndGlyphs" fill="#3a3a3a" stroke="#3a3a3a" stroke-width="0.08">Log[ruxolitinib]</text>
<line x1="292.40" y1="275.60" x2="298.90" y2="275.60" stroke="#c81e3a" stroke-width="1.2"/>
<rect x="294.60" y="274.50" width="2.20" height="2.20" fill="#c81e3a"/>
<text x="302.00" y="278.60" font-size="8.6" textLength="50.50" lengthAdjust="spacingAndGlyphs" fill="#3a3a3a" stroke="#3a3a3a" stroke-width="0.22">CAPRIN1-JAK2</text>
<path d="M297.40,294.54 L299.26,294.56 L301.11,294.58 L302.97,294.61 L304.82,294.65 L306.68,294.71 L308.54,294.78 L310.39,294.87 L312.25,294.98 L314.11,295.14 L315.96,295.34 L317.82,295.60 L319.68,295.94 L321.53,296.38 L323.39,296.95 L325.24,297.68 L327.10,298.60 L328.96,299.77 L330.81,301.22 L332.67,303.01 L334.52,305.17 L336.38,307.72 L338.24,310.67 L340.09,313.98 L341.95,317.57 L343.81,321.34 L345.66,325.16 L347.52,328.89 L349.38,332.40 L351.23,335.59 L353.09,338.41 L354.94,340.83 L356.80,342.86 L358.66,344.53 L360.51,345.88 L362.37,346.96 L364.22,347.82 L366.08,348.49 L367.94,349.01 L369.79,349.42 L371.65,349.73" stroke="#c81e3a" stroke-width="1.2" fill="none"/>
<rect x="296.00" y="291.70" width="2.20" height="2.20" fill="#c81e3a"/>
<line x1="297.10" y1="290.30" x2="297.10" y2="295.30" stroke="#c81e3a" stroke-width="0.8"/>
<line x1="295.60" y1="290.30" x2="298.60" y2="290.30" stroke="#c81e3a" stroke-width="0.8"/>
<line x1="295.60" y1="295.30" x2="298.60" y2="295.30" stroke="#c81e3a" stroke-width="0.8"/>
<rect x="305.20" y="294.30" width="2.20" height="2.20" fill="#c81e3a"/>
<rect x="312.40" y="294.30" width="2.20" height="2.20" fill="#c81e3a"/>
<rect x="321.10" y="296.00" width="2.20" height="2.20" fill="#c81e3a"/>
<line x1="322.20" y1="295.10" x2="322.20" y2="299.10" stroke="#c81e3a" stroke-width="0.8"/>
<line x1="320.70" y1="295.10" x2="323.70" y2="295.10" stroke="#c81e3a" stroke-width="0.8"/>
<line x1="320.70" y1="299.10" x2="323.70" y2="299.10" stroke="#c81e3a" stroke-width="0.8"/>
<rect x="329.80" y="303.80" width="2.20" height="2.20" fill="#c81e3a"/>
<line x1="330.90" y1="303.70" x2="330.90" y2="306.10" stroke="#c81e3a" stroke-width="0.8"/>
<line x1="329.40" y1="303.70" x2="332.40" y2="303.70" stroke="#c81e3a" stroke-width="0.8"/>
<line x1="329.40" y1="306.10" x2="332.40" y2="306.10" stroke="#c81e3a" stroke-width="0.8"/>
<rect x="337.50" y="311.00" width="2.20" height="2.20" fill="#c81e3a"/>
<rect x="345.60" y="325.40" width="2.20" height="2.20" fill="#c81e3a"/>
<line x1="346.70" y1="325.00" x2="346.70" y2="328.00" stroke="#c81e3a" stroke-width="0.8"/>
<line x1="345.20" y1="325.00" x2="348.20" y2="325.00" stroke="#c81e3a" stroke-width="0.8"/>
<line x1="345.20" y1="328.00" x2="348.20" y2="328.00" stroke="#c81e3a" stroke-width="0.8"/>
<rect x="354.30" y="344.20" width="2.20" height="2.20" fill="#c81e3a"/>
<rect x="362.40" y="347.90" width="2.20" height="2.20" fill="#c81e3a"/>
<rect x="370.70" y="347.10" width="2.20" height="2.20" fill="#c81e3a"/>
<line x1="371.80" y1="347.20" x2="371.80" y2="349.20" stroke="#c81e3a" stroke-width="0.8"/>
<line x1="370.30" y1="347.20" x2="373.30" y2="347.20" stroke="#c81e3a" stroke-width="0.8"/>
<line x1="370.30" y1="349.20" x2="373.30" y2="349.20" stroke="#c81e3a" stroke-width="0.8"/>
<rect x="287.60" y="333.70" width="60.40" height="18.30" fill="#fff" stroke="#333" stroke-width="0.8"/>
<line x1="287.60" y1="342.60" x2="348.00" y2="342.60" stroke="#333" stroke-width="0.8"/>
<line x1="305.80" y1="333.70" x2="305.80" y2="352.00" stroke="#333" stroke-width="0.8"/>
<text x="326.90" y="340.70" font-size="8.2" text-anchor="middle" textLength="15.50" lengthAdjust="spacingAndGlyphs" fill="#3a3a3a" stroke="#3a3a3a" stroke-width="0.22">IC50</text>
<text x="296.70" y="350.00" font-size="8.2" text-anchor="middle" textLength="12.30" lengthAdjust="spacingAndGlyphs" fill="#3a3a3a" stroke="#3a3a3a" stroke-width="0.22">Rux</text>
<text x="326.90" y="350.00" font-size="8.2" text-anchor="middle" textLength="38.70" lengthAdjust="spacingAndGlyphs" fill="#3a3a3a" stroke="#3a3a3a" stroke-width="0.22">4.022e-007</text>
<line x1="413.90" y1="262.60" x2="413.90" y2="356.80" stroke="#333" stroke-width="1"/>
<line x1="413.90" y1="356.80" x2="508.90" y2="356.80" stroke="#333" stroke-width="1"/>
<line x1="410.90" y1="356.80" x2="413.90" y2="356.80" stroke="#333" stroke-width="0.9"/>
<text x="408.90" y="360.00" font-size="9.3" text-anchor="end" textLength="10.80" lengthAdjust="spacingAndGlyphs" fill="#3a3a3a" stroke="#3a3a3a" stroke-width="0.22">0.0</text>
<line x1="410.90" y1="326.20" x2="413.90" y2="326.20" stroke="#333" stroke-width="0.9"/>
<text x="408.90" y="329.40" font-size="9.3" text-anchor="end" textLength="10.80" lengthAdjust="spacingAndGlyphs" fill="#3a3a3a" stroke="#3a3a3a" stroke-width="0.22">0.5</text>
<line x1="410.90" y1="295.70" x2="413.90" y2="295.70" stroke="#333" stroke-width="0.9"/>
<text x="408.90" y="298.90" font-size="9.3" text-anchor="end" textLength="10.80" lengthAdjust="spacingAndGlyphs" fill="#3a3a3a" stroke="#3a3a3a" stroke-width="0.22">1.0</text>
<line x1="410.90" y1="262.60" x2="413.90" y2="262.60" stroke="#333" stroke-width="0.9"/>
<text x="408.90" y="265.80" font-size="9.3" text-anchor="end" textLength="10.80" lengthAdjust="spacingAndGlyphs" fill="#3a3a3a" stroke="#3a3a3a" stroke-width="0.22">1.5</text>
<line x1="413.90" y1="356.80" x2="413.90" y2="359.80" stroke="#333" stroke-width="0.9"/>
<text x="413.90" y="369.00" font-size="8.6" text-anchor="middle" textLength="12.00" lengthAdjust="spacingAndGlyphs" fill="#3a3a3a" stroke="#3a3a3a" stroke-width="0.22">−10</text>
<line x1="446.20" y1="356.80" x2="446.20" y2="359.80" stroke="#333" stroke-width="0.9"/>
<text x="446.20" y="369.00" font-size="8.6" text-anchor="middle" textLength="8.20" lengthAdjust="spacingAndGlyphs" fill="#3a3a3a" stroke="#3a3a3a" stroke-width="0.22">−8</text>
<line x1="477.50" y1="356.80" x2="477.50" y2="359.80" stroke="#333" stroke-width="0.9"/>
<text x="477.50" y="369.00" font-size="8.6" text-anchor="middle" textLength="8.20" lengthAdjust="spacingAndGlyphs" fill="#3a3a3a" stroke="#3a3a3a" stroke-width="0.22">−6</text>
<line x1="508.90" y1="356.80" x2="508.90" y2="359.80" stroke="#333" stroke-width="0.9"/>
<text x="508.90" y="369.00" font-size="8.6" text-anchor="middle" textLength="8.20" lengthAdjust="spacingAndGlyphs" fill="#3a3a3a" stroke="#3a3a3a" stroke-width="0.22">−4</text>
<text x="392.90" y="310.20" font-size="10.0" text-anchor="middle" textLength="41.20" lengthAdjust="spacingAndGlyphs" fill="#3a3a3a" transform="rotate(-90 392.90 310.20)" stroke="#3a3a3a" stroke-width="0.08">Cell viability</text>
<text x="461.70" y="381.80" font-size="10.0" text-anchor="middle" textLength="44.00" lengthAdjust="spacingAndGlyphs" fill="#3a3a3a" stroke="#3a3a3a" stroke-width="0.08">Log[imatinib]</text>
<line x1="427.70" y1="272.60" x2="434.20" y2="272.60" stroke="#c81e3a" stroke-width="1.2"/>
<rect x="429.90" y="271.50" width="2.20" height="2.20" fill="#c81e3a"/>
<text x="437.30" y="275.60" font-size="8.6" textLength="49.90" lengthAdjust="spacingAndGlyphs" fill="#3a3a3a" stroke="#3a3a3a" stroke-width="0.22">SELENOI-ABL1</text>
<path d="M427.36,284.84 L429.10,284.96 L430.84,285.10 L432.58,285.26 L434.32,285.45 L436.07,285.67 L437.81,285.92 L439.55,286.21 L441.29,286.55 L443.03,286.94 L444.77,287.39 L446.52,287.91 L448.26,288.50 L450.00,289.18 L451.74,289.96 L453.48,290.84 L455.22,291.84 L456.97,292.98 L458.71,294.26 L460.45,295.69 L462.19,297.29 L463.93,299.07 L465.67,301.02 L467.42,303.16 L469.16,305.47 L470.90,307.97 L472.64,310.63 L474.38,313.43 L476.12,316.36 L477.87,319.39 L479.61,322.49 L481.35,325.62 L483.09,328.74 L484.83,331.83 L486.57,334.85 L488.32,337.76 L490.06,340.54 L491.80,343.17 L493.54,345.63 L495.28,347.91 L497.02,350.02" stroke="#c81e3a" stroke-width="1.2" fill="none"/>
<rect x="425.70" y="288.50" width="2.20" height="2.20" fill="#c81e3a"/>
<rect x="433.80" y="282.70" width="2.20" height="2.20" fill="#c81e3a"/>
<rect x="441.60" y="286.50" width="2.20" height="2.20" fill="#c81e3a"/>
<line x1="442.70" y1="284.10" x2="442.70" y2="291.10" stroke="#c81e3a" stroke-width="0.8"/>
<line x1="441.20" y1="284.10" x2="444.20" y2="284.10" stroke="#c81e3a" stroke-width="0.8"/>
<line x1="441.20" y1="291.10" x2="444.20" y2="291.10" stroke="#c81e3a" stroke-width="0.8"/>
<rect x="449.70" y="286.50" width="2.20" height="2.20" fill="#c81e3a"/>
<line x1="450.80" y1="285.10" x2="450.80" y2="290.10" stroke="#c81e3a" stroke-width="0.8"/>
<line x1="449.30" y1="285.10" x2="452.30" y2="285.10" stroke="#c81e3a" stroke-width="0.8"/>
<line x1="449.30" y1="290.10" x2="452.30" y2="290.10" stroke="#c81e3a" stroke-width="0.8"/>
<rect x="456.90" y="289.40" width="2.20" height="2.20" fill="#c81e3a"/>
<rect x="464.90" y="301.80" width="2.20" height="2.20" fill="#c81e3a"/>
<rect x="472.70" y="319.70" width="2.20" height="2.20" fill="#c81e3a"/>
<line x1="473.80" y1="319.60" x2="473.80" y2="322.00" stroke="#c81e3a" stroke-width="0.8"/>
<line x1="472.30" y1="319.60" x2="475.30" y2="319.60" stroke="#c81e3a" stroke-width="0.8"/>
<line x1="472.30" y1="322.00" x2="475.30" y2="322.00" stroke="#c81e3a" stroke-width="0.8"/>
<rect x="480.50" y="326.00" width="2.20" height="2.20" fill="#c81e3a"/>
<rect x="488.60" y="331.80" width="2.20" height="2.20" fill="#c81e3a"/>
<rect x="496.40" y="352.80" width="2.20" height="2.20" fill="#c81e3a"/>
<rect x="416.10" y="335.20" width="60.00" height="17.90" fill="#fff" stroke="#333" stroke-width="0.8"/>
<line x1="416.10" y1="344.40" x2="476.10" y2="344.40" stroke="#333" stroke-width="0.8"/>
<line x1="434.00" y1="335.20" x2="434.00" y2="353.10" stroke="#333" stroke-width="0.8"/>
<text x="455.05" y="342.50" font-size="8.2" text-anchor="middle" textLength="15.50" lengthAdjust="spacingAndGlyphs" fill="#3a3a3a" stroke="#3a3a3a" stroke-width="0.22">IC50</text>
<text x="425.05" y="351.10" font-size="8.2" text-anchor="middle" textLength="12.30" lengthAdjust="spacingAndGlyphs" fill="#3a3a3a" stroke="#3a3a3a" stroke-width="0.22">Ima</text>
<text x="455.05" y="351.10" font-size="8.2" text-anchor="middle" textLength="38.60" lengthAdjust="spacingAndGlyphs" fill="#3a3a3a" stroke="#3a3a3a" stroke-width="0.22">1.641e-006</text>
<text x="6.80" y="429.80" font-size="12.0" textLength="7.00" lengthAdjust="spacingAndGlyphs" font-weight="bold" fill="#111">E</text>
<rect x="17.30" y="442.40" width="99.50" height="100.20" fill="#f1f1f1"/>
<text x="66.70" y="446.00" font-size="4.2" text-anchor="middle" textLength="33.70" lengthAdjust="spacingAndGlyphs" font-weight="bold" fill="#111" stroke="#111" stroke-width="0.25">Enrichment plot:</text>
<text x="67.30" y="450.40" font-size="4.0" text-anchor="middle" textLength="77.70" lengthAdjust="spacingAndGlyphs" font-weight="bold" fill="#111" stroke="#111" stroke-width="0.25">HALLMARK_IL6_JAK_STAT3_SIGNALING</text>
<rect x="29.90" y="452.40" width="84.00" height="37.20" fill="#fff" stroke="#cfcfcf" stroke-width="0.4"/>
<text x="28.60" y="455.90" font-size="3.0" text-anchor="end" fill="#555">0.4</text>
<line x1="29.90" y1="454.80" x2="113.90" y2="454.80" stroke="#eeeeee" stroke-width="0.3"/>
<text x="28.60" y="462.65" font-size="3.0" text-anchor="end" fill="#555">0.3</text>
<line x1="29.90" y1="461.55" x2="113.90" y2="461.55" stroke="#eeeeee" stroke-width="0.3"/>
<text x="28.60" y="469.40" font-size="3.0" text-anchor="end" fill="#555">0.2</text>
<line x1="29.90" y1="468.30" x2="113.90" y2="468.30" stroke="#eeeeee" stroke-width="0.3"/>
<text x="28.60" y="476.15" font-size="3.0" text-anchor="end" fill="#555">0.1</text>
<line x1="29.90" y1="475.05" x2="113.90" y2="475.05" stroke="#eeeeee" stroke-width="0.3"/>
<text x="28.60" y="482.90" font-size="3.0" text-anchor="end" fill="#555">0.0</text>
<line x1="29.90" y1="481.80" x2="113.90" y2="481.80" stroke="#eeeeee" stroke-width="0.3"/>
<text x="28.60" y="489.65" font-size="3.0" text-anchor="end" fill="#555">-0.1</text>
<line x1="29.90" y1="488.55" x2="113.90" y2="488.55" stroke="#eeeeee" stroke-width="0.3"/>
<line x1="29.90" y1="481.80" x2="113.90" y2="481.80" stroke="#b0b0b0" stroke-width="0.5"/>
<text x="22.50" y="471.00" font-size="3.0" text-anchor="middle" textLength="35.00" lengthAdjust="spacingAndGlyphs" font-weight="bold" fill="#222" transform="rotate(-90 22.50 471.00)" stroke="#222" stroke-width="0.15">Enrichment score (ES)</text>
<polyline points="29.90,481.50 30.40,472.00 30.90,466.50 31.60,464.60 32.50,463.50 33.30,459.00 34.20,456.50 35.80,454.40 37.50,454.80 39.50,456.00 41.50,457.20 42.50,456.50 43.50,455.30 45.50,456.40 47.50,456.00 49.50,456.20 51.00,457.60 52.00,456.00 53.50,455.60 55.50,456.80 57.50,457.40 60.00,458.60 62.00,459.60 65.00,461.20 68.00,462.60 71.00,464.80 75.00,467.20 80.00,470.60 85.00,474.40 90.00,478.20 94.60,482.50 96.00,482.60 97.50,483.60 99.00,483.40 100.50,484.60 103.00,485.20 105.00,485.60 106.20,486.40 107.50,485.40 108.60,486.60 109.60,487.20 110.60,485.60 111.40,485.00 112.20,481.20" fill="none" stroke="#5bb946" stroke-width="1.1" stroke-linejoin="round"/>
<rect x="29.90" y="489.60" width="84.00" height="12.10" fill="#fff" stroke="#cfcfcf" stroke-width="0.3"/>
<g filter="url(#bl)"><rect x="29.69" y="489.8" width="1.27" height="11.8" fill="#111"/><rect x="30.96" y="489.8" width="1.27" height="11.8" fill="#888"/><rect x="32.23" y="489.8" width="0.85" height="11.8" fill="#444"/><rect x="33.08" y="489.8" width="1.27" height="11.8" fill="#777"/><rect x="34.35" y="489.8" width="2.12" height="11.8" fill="#555"/><rect x="36.46" y="489.8" width="1.69" height="11.8" fill="#bbb"/><rect x="38.15" y="489.8" width="0.85" height="11.8" fill="#ddd"/><rect x="39.00" y="489.8" width="2.54" height="11.8" fill="#ccc"/><rect x="42.81" y="489.8" width="2.12" height="11.8" fill="#777"/><rect x="44.92" y="489.8" width="4.65" height="11.8" fill="#999"/><rect x="46.19" y="489.8" width="1.27" height="11.8" fill="#777"/><rect x="50.84" y="489.8" width="1.27" height="11.8" fill="#ccc"/><rect x="52.11" y="489.8" width="0.85" height="11.8" fill="#222"/><rect x="52.96" y="489.8" width="0.85" height="11.8" fill="#888"/><rect x="53.80" y="489.8" width="2.96" height="11.8" fill="#888"/><rect x="60.15" y="489.8" width="0.85" height="11.8" fill="#ccc"/><rect x="60.99" y="489.8" width="0.85" height="11.8" fill="#777"/><rect x="62.69" y="489.8" width="1.27" height="11.8" fill="#555"/><rect x="63.96" y="489.8" width="1.27" height="11.8" fill="#888"/><rect x="65.23" y="489.8" width="0.85" height="11.8" fill="#444"/><rect x="67.76" y="489.8" width="1.69" height="11.8" fill="#999"/><rect x="71.69" y="489.8" width="2.12" height="11.8" fill="#777"/><rect x="75.08" y="489.8" width="1.27" height="11.8" fill="#888"/><rect x="78.46" y="489.8" width="0.85" height="11.8" fill="#333"/><rect x="81.84" y="489.8" width="2.12" height="11.8" fill="#888"/><rect x="86.92" y="489.8" width="1.27" height="11.8" fill="#ccc"/><rect x="88.19" y="489.8" width="1.27" height="11.8" fill="#999"/><rect x="89.46" y="489.8" width="1.69" height="11.8" fill="#555"/><rect x="93.69" y="489.8" width="1.27" height="11.8" fill="#888"/><rect x="94.96" y="489.8" width="0.85" height="11.8" fill="#333"/><rect x="97.07" y="489.8" width="1.69" height="11.8" fill="#666"/><rect x="98.76" y="489.8" width="1.27" height="11.8" fill="#444"/><rect x="100.03" y="489.8" width="1.27" height="11.8" fill="#999"/><rect x="102.57" y="489.8" width="1.27" height="11.8" fill="#ccc"/><rect x="103.84" y="489.8" width="1.69" height="11.8" fill="#888"/><rect x="105.53" y="489.8" width="1.69" height="11.8" fill="#aaa"/><rect x="109.76" y="489.8" width="1.69" height="11.8" fill="#777"/></g>
<defs><linearGradient id="cb7" x1="0" x2="1" y1="0" y2="0"><stop offset="0" stop-color="#e41e26"/><stop offset="0.318" stop-color="#e5232d"/><stop offset="0.530" stop-color="#ee4a58"/><stop offset="0.550" stop-color="#e98bbf"/><stop offset="0.700" stop-color="#e6a0cf"/><stop offset="0.720" stop-color="#b9b2e2"/><stop offset="0.860" stop-color="#a9a6dc"/><stop offset="0.880" stop-color="#4a57b8"/><stop offset="1" stop-color="#2b3a9e"/></linearGradient></defs>
<rect x="29.90" y="501.70" width="82.20" height="3.10" fill="url(#cb7)"/>
<rect x="29.90" y="505.00" width="84.00" height="25.60" fill="#fff" stroke="#cfcfcf" stroke-width="0.3"/>
<text x="31.10" y="507.40" font-size="2.9" textLength="27.50" lengthAdjust="spacingAndGlyphs" fill="#e8242c">'PCA' (positively correlated)</text>
<path d="M29.90,515.4 L29.90,508.4 C33.90,510.0 39.90,512.0 49.90,513.2 L74.90,514.6 L90.10,516.0 C102.10,517.0 108.10,518.6 110.60,521.5 L111.80,528.4 L111.80,515.4 Z" fill="#c4c4c4" stroke="#9a9a9a" stroke-width="0.3"/>
<line x1="29.90" y1="515.40" x2="112.10" y2="515.40" stroke="#9a9a9a" stroke-width="0.3"/>
<line x1="82.20" y1="505.20" x2="82.20" y2="530.40" stroke="#bbbbbb" stroke-width="0.3" stroke-dasharray="0.6 0.6"/>
<text x="72.90" y="517.30" font-size="2.2" textLength="15.30" lengthAdjust="spacingAndGlyphs">Zero cross at 10000</text>
<text x="73.80" y="528.80" font-size="2.9" textLength="27.40" lengthAdjust="spacingAndGlyphs" fill="#3a49b0">'Unstim' (negatively correlated)</text>
<text x="30.80" y="526.0" font-size="10.4" fill="#111" stroke="#111" stroke-width="0.25" textLength="60.50" lengthAdjust="spacingAndGlyphs"><tspan font-style="italic">p</tspan>-value= 0.005</text>
<text x="22.50" y="518.00" font-size="2.8" text-anchor="middle" textLength="38.00" lengthAdjust="spacingAndGlyphs" font-weight="bold" fill="#222" transform="rotate(-90 22.50 518.00)" stroke="#222" stroke-width="0.12">Ranked list metric (Signal2Noise)</text>
<text x="29.90" y="532.50" font-size="2.5" text-anchor="middle" font-weight="bold" fill="#222">0</text>
<text x="46.00" y="532.50" font-size="2.5" text-anchor="middle" font-weight="bold" fill="#222">5,000</text>
<text x="62.10" y="532.50" font-size="2.5" text-anchor="middle" font-weight="bold" fill="#222">10,000</text>
<text x="78.20" y="532.50" font-size="2.5" text-anchor="middle" font-weight="bold" fill="#222">15,000</text>
<text x="94.30" y="532.50" font-size="2.5" text-anchor="middle" font-weight="bold" fill="#222">20,000</text>
<text x="110.40" y="532.50" font-size="2.5" text-anchor="middle" font-weight="bold" fill="#222">25,000</text>
<text x="71.70" y="535.50" font-size="3.0" text-anchor="middle" textLength="27.10" lengthAdjust="spacingAndGlyphs" font-weight="bold" fill="#222" stroke="#222" stroke-width="0.12">Rank in Ordered Dataset</text>
<rect x="30.20" y="538.30" width="74.80" height="4.00" fill="#fff" stroke="#444" stroke-width="0.45"/>
<line x1="31.30" y1="540.30" x2="34.50" y2="540.30" stroke="#5bb946" stroke-width="1.1"/>
<text x="35.50" y="541.30" font-size="2.8" textLength="28.50" lengthAdjust="spacingAndGlyphs" fill="#222">Enrichment profile — Hits</text>
<text x="75.90" y="541.30" font-size="2.8" textLength="27.50" lengthAdjust="spacingAndGlyphs" fill="#222">Ranking metric scores</text>
<text x="67.80" y="439.60" font-size="9.2" text-anchor="middle" textLength="34.10" lengthAdjust="spacingAndGlyphs" fill="#3a3a3a" stroke="#3a3a3a" stroke-width="0.22">PCAETCL</text>
<text x="19.70" y="552.20" font-size="9.2" textLength="32.30" lengthAdjust="spacingAndGlyphs" fill="#3a3a3a" stroke="#3a3a3a" stroke-width="0.22">PCAETCL</text>
<text x="118.50" y="552.20" font-size="9.2" text-anchor="end" textLength="43.90" lengthAdjust="spacingAndGlyphs" fill="#3a3a3a" stroke="#3a3a3a" stroke-width="0.22">Unstim CD8+</text>
<rect x="130.90" y="442.40" width="99.50" height="100.20" fill="#f1f1f1"/>
<text x="180.30" y="446.00" font-size="4.2" text-anchor="middle" textLength="33.70" lengthAdjust="spacingAndGlyphs" font-weight="bold" fill="#111" stroke="#111" stroke-width="0.25">Enrichment plot:</text>
<text x="180.90" y="450.40" font-size="4.0" text-anchor="middle" textLength="77.70" lengthAdjust="spacingAndGlyphs" font-weight="bold" fill="#111" stroke="#111" stroke-width="0.25">HALLMARK_IL6_JAK_STAT3_SIGNALING</text>
<rect x="143.50" y="452.40" width="84.00" height="37.20" fill="#fff" stroke="#cfcfcf" stroke-width="0.4"/>
<text x="142.20" y="455.90" font-size="3.0" text-anchor="end" fill="#555">0.4</text>
<line x1="143.50" y1="454.80" x2="227.50" y2="454.80" stroke="#eeeeee" stroke-width="0.3"/>
<text x="142.20" y="462.65" font-size="3.0" text-anchor="end" fill="#555">0.3</text>
<line x1="143.50" y1="461.55" x2="227.50" y2="461.55" stroke="#eeeeee" stroke-width="0.3"/>
<text x="142.20" y="469.40" font-size="3.0" text-anchor="end" fill="#555">0.2</text>
<line x1="143.50" y1="468.30" x2="227.50" y2="468.30" stroke="#eeeeee" stroke-width="0.3"/>
<text x="142.20" y="476.15" font-size="3.0" text-anchor="end" fill="#555">0.1</text>
<line x1="143.50" y1="475.05" x2="227.50" y2="475.05" stroke="#eeeeee" stroke-width="0.3"/>
<text x="142.20" y="482.90" font-size="3.0" text-anchor="end" fill="#555">0.0</text>
<line x1="143.50" y1="481.80" x2="227.50" y2="481.80" stroke="#eeeeee" stroke-width="0.3"/>
<text x="142.20" y="489.65" font-size="3.0" text-anchor="end" fill="#555">-0.1</text>
<line x1="143.50" y1="488.55" x2="227.50" y2="488.55" stroke="#eeeeee" stroke-width="0.3"/>
<line x1="143.50" y1="481.80" x2="227.50" y2="481.80" stroke="#b0b0b0" stroke-width="0.5"/>
<text x="136.10" y="471.00" font-size="3.0" text-anchor="middle" textLength="35.00" lengthAdjust="spacingAndGlyphs" font-weight="bold" fill="#222" transform="rotate(-90 136.10 471.00)" stroke="#222" stroke-width="0.15">Enrichment score (ES)</text>
<polyline points="143.50,482.30 144.10,472.00 144.70,464.00 145.50,461.00 146.50,459.20 147.50,461.40 148.70,458.00 149.70,457.20 150.70,456.40 151.70,454.40 152.90,455.20 154.10,454.60 155.90,456.00 157.40,455.60 159.40,456.80 161.40,457.40 164.40,457.80 166.90,458.40 169.40,457.80 170.40,458.60 172.40,457.00 174.40,456.40 176.90,458.00 180.40,459.00 183.40,460.50 186.90,463.00 190.90,466.00 195.90,470.00 200.90,474.00 205.90,478.20 209.90,481.40 212.40,482.60 213.90,482.20 215.90,483.80 218.40,484.00 220.40,485.20 221.90,485.80 223.40,486.80 224.50,485.60 225.40,484.00 225.90,481.60" fill="none" stroke="#5bb946" stroke-width="1.1" stroke-linejoin="round"/>
<rect x="143.50" y="489.60" width="84.00" height="12.10" fill="#fff" stroke="#cfcfcf" stroke-width="0.3"/>
<g filter="url(#bl)"><rect x="143.69" y="489.8" width="1.69" height="11.8" fill="#111"/><rect x="147.08" y="489.8" width="1.69" height="11.8" fill="#555"/><rect x="148.77" y="489.8" width="1.27" height="11.8" fill="#999"/><rect x="150.04" y="489.8" width="0.85" height="11.8" fill="#333"/><rect x="152.15" y="489.8" width="1.69" height="11.8" fill="#999"/><rect x="155.11" y="489.8" width="6.77" height="11.8" fill="#c8c8c8"/><rect x="156.81" y="489.8" width="0.85" height="11.8" fill="#aaa"/><rect x="161.88" y="489.8" width="1.27" height="11.8" fill="#888"/><rect x="163.15" y="489.8" width="1.69" height="11.8" fill="#ccc"/><rect x="164.84" y="489.8" width="1.27" height="11.8" fill="#444"/><rect x="167.38" y="489.8" width="3.38" height="11.8" fill="#888"/><rect x="168.65" y="489.8" width="0.85" height="11.8" fill="#666"/><rect x="172.03" y="489.8" width="2.12" height="11.8" fill="#bbb"/><rect x="174.15" y="489.8" width="2.54" height="11.8" fill="#999"/><rect x="177.96" y="489.8" width="1.27" height="11.8" fill="#555"/><rect x="180.92" y="489.8" width="1.27" height="11.8" fill="#777"/><rect x="185.69" y="489.8" width="1.27" height="11.8" fill="#444"/><rect x="188.65" y="489.8" width="2.12" height="11.8" fill="#888"/><rect x="190.77" y="489.8" width="1.27" height="11.8" fill="#ccc"/><rect x="192.04" y="489.8" width="3.81" height="11.8" fill="#999"/><rect x="200.07" y="489.8" width="0.85" height="11.8" fill="#777"/><rect x="200.92" y="489.8" width="5.08" height="11.8" fill="#bbb"/><rect x="204.73" y="489.8" width="0.85" height="11.8" fill="#999"/><rect x="206.00" y="489.8" width="0.85" height="11.8" fill="#333"/><rect x="208.11" y="489.8" width="2.12" height="11.8" fill="#888"/><rect x="211.07" y="489.8" width="1.69" height="11.8" fill="#222"/><rect x="215.73" y="489.8" width="1.69" height="11.8" fill="#888"/><rect x="217.42" y="489.8" width="2.12" height="11.8" fill="#ccc"/><rect x="220.80" y="489.8" width="1.27" height="11.8" fill="#999"/><rect x="222.07" y="489.8" width="1.69" height="11.8" fill="#777"/><rect x="223.76" y="489.8" width="1.69" height="11.8" fill="#ddd"/></g>
<defs><linearGradient id="cb11" x1="0" x2="1" y1="0" y2="0"><stop offset="0" stop-color="#e41e26"/><stop offset="0.318" stop-color="#e5232d"/><stop offset="0.530" stop-color="#ee4a58"/><stop offset="0.550" stop-color="#e98bbf"/><stop offset="0.700" stop-color="#e6a0cf"/><stop offset="0.720" stop-color="#b9b2e2"/><stop offset="0.860" stop-color="#a9a6dc"/><stop offset="0.880" stop-color="#4a57b8"/><stop offset="1" stop-color="#2b3a9e"/></linearGradient></defs>
<rect x="143.50" y="501.70" width="82.20" height="3.10" fill="url(#cb11)"/>
<rect x="143.50" y="505.00" width="84.00" height="25.60" fill="#fff" stroke="#cfcfcf" stroke-width="0.3"/>
<text x="144.70" y="507.40" font-size="2.9" textLength="27.50" lengthAdjust="spacingAndGlyphs" fill="#e8242c">'CTCL' (positively correlated)</text>
<path d="M143.50,515.4 L143.50,508.4 C147.50,510.0 153.50,512.0 163.50,513.2 L188.50,514.6 L203.70,516.0 C215.70,517.0 221.70,518.6 224.20,521.5 L225.40,528.4 L225.40,515.4 Z" fill="#c4c4c4" stroke="#9a9a9a" stroke-width="0.3"/>
<line x1="143.50" y1="515.40" x2="225.70" y2="515.40" stroke="#9a9a9a" stroke-width="0.3"/>
<line x1="195.80" y1="505.20" x2="195.80" y2="530.40" stroke="#bbbbbb" stroke-width="0.3" stroke-dasharray="0.6 0.6"/>
<text x="186.50" y="517.30" font-size="2.2" textLength="15.30" lengthAdjust="spacingAndGlyphs">Zero cross at 10000</text>
<text x="187.40" y="528.80" font-size="2.9" textLength="27.40" lengthAdjust="spacingAndGlyphs" fill="#3a49b0">'Unstim' (negatively correlated)</text>
<text x="144.40" y="526.0" font-size="10.4" fill="#111" stroke="#111" stroke-width="0.25" textLength="72.50" lengthAdjust="spacingAndGlyphs"><tspan font-style="italic">p</tspan>-value= 0.00001</text>
<text x="136.10" y="518.00" font-size="2.8" text-anchor="middle" textLength="38.00" lengthAdjust="spacingAndGlyphs" font-weight="bold" fill="#222" transform="rotate(-90 136.10 518.00)" stroke="#222" stroke-width="0.12">Ranked list metric (Signal2Noise)</text>
<text x="143.50" y="532.50" font-size="2.5" text-anchor="middle" font-weight="bold" fill="#222">0</text>
<text x="159.60" y="532.50" font-size="2.5" text-anchor="middle" font-weight="bold" fill="#222">5,000</text>
<text x="175.70" y="532.50" font-size="2.5" text-anchor="middle" font-weight="bold" fill="#222">10,000</text>
<text x="191.80" y="532.50" font-size="2.5" text-anchor="middle" font-weight="bold" fill="#222">15,000</text>
<text x="207.90" y="532.50" font-size="2.5" text-anchor="middle" font-weight="bold" fill="#222">20,000</text>
<text x="224.00" y="532.50" font-size="2.5" text-anchor="middle" font-weight="bold" fill="#222">25,000</text>
<text x="185.30" y="535.50" font-size="3.0" text-anchor="middle" textLength="27.10" lengthAdjust="spacingAndGlyphs" font-weight="bold" fill="#222" stroke="#222" stroke-width="0.12">Rank in Ordered Dataset</text>
<rect x="143.80" y="538.30" width="74.80" height="4.00" fill="#fff" stroke="#444" stroke-width="0.45"/>
<line x1="144.90" y1="540.30" x2="148.10" y2="540.30" stroke="#5bb946" stroke-width="1.1"/>
<text x="149.10" y="541.30" font-size="2.8" textLength="28.50" lengthAdjust="spacingAndGlyphs" fill="#222">Enrichment profile — Hits</text>
<text x="189.50" y="541.30" font-size="2.8" textLength="27.50" lengthAdjust="spacingAndGlyphs" fill="#222">Ranking metric scores</text>
<text x="179.60" y="439.60" font-size="9.2" text-anchor="middle" textLength="36.80" lengthAdjust="spacingAndGlyphs" fill="#3a3a3a" stroke="#3a3a3a" stroke-width="0.22">CTCL-NOS</text>
<text x="130.80" y="552.20" font-size="9.2" textLength="36.40" lengthAdjust="spacingAndGlyphs" fill="#3a3a3a" stroke="#3a3a3a" stroke-width="0.22">CTCL-NOS</text>
<text x="230.10" y="552.20" font-size="9.2" text-anchor="end" textLength="43.90" lengthAdjust="spacingAndGlyphs" fill="#3a3a3a" stroke="#3a3a3a" stroke-width="0.22">Unstim CD8+</text>
<text x="245.80" y="430.10" font-size="12.0" textLength="5.90" lengthAdjust="spacingAndGlyphs" font-weight="bold" fill="#111">F</text>
<text x="268.20" y="437.00" font-size="8.6" textLength="36.00" lengthAdjust="spacingAndGlyphs" fill="#3a3a3a" stroke="#3a3a3a" stroke-width="0.22">Alterations</text>
<rect x="251.00" y="438.90" width="5.80" height="5.80" fill="#5a2a7e"/>
<text x="258.90" y="444.50" font-size="8.6" textLength="26.80" lengthAdjust="spacingAndGlyphs" fill="#3a3a3a" stroke="#3a3a3a" stroke-width="0.22">Hotspot</text>
<rect x="251.00" y="447.50" width="5.80" height="5.80" fill="#c71f3a"/>
<text x="258.90" y="453.10" font-size="8.6" textLength="34.20" lengthAdjust="spacingAndGlyphs" fill="#3a3a3a" stroke="#3a3a3a" stroke-width="0.22">Damaging</text>
<rect x="251.00" y="456.10" width="5.80" height="5.80" fill="#2eb34b"/>
<text x="258.90" y="461.70" font-size="8.6" textLength="21.50" lengthAdjust="spacingAndGlyphs" fill="#3a3a3a" stroke="#3a3a3a" stroke-width="0.22">Fusion</text>
<rect x="251.00" y="464.70" width="5.80" height="5.80" fill="#124a86"/>
<text x="258.90" y="470.30" font-size="8.6" textLength="23.30" lengthAdjust="spacingAndGlyphs" fill="#3a3a3a" stroke="#3a3a3a" stroke-width="0.22">HetDel</text>
<rect x="251.00" y="473.30" width="5.80" height="5.80" fill="#a5d2f1"/>
<text x="258.90" y="478.90" font-size="8.6" textLength="27.30" lengthAdjust="spacingAndGlyphs" fill="#3a3a3a" stroke="#3a3a3a" stroke-width="0.22">HomDel</text>
<rect x="341.20" y="441.80" width="9.10" height="54.85" fill="#f7941d"/>
<text x="338.10" y="471.42" font-size="8.7" text-anchor="end" textLength="34.00" lengthAdjust="spacingAndGlyphs" fill="#3a3a3a" stroke="#3a3a3a" stroke-width="0.22">JAK-STAT</text>
<rect x="341.20" y="499.60" width="9.10" height="26.65" fill="#176b4f"/>
<text x="338.10" y="515.12" font-size="8.7" text-anchor="end" textLength="83.10" lengthAdjust="spacingAndGlyphs" fill="#3a3a3a" stroke="#3a3a3a" stroke-width="0.22">Chromatin modification</text>
<rect x="341.20" y="529.20" width="9.10" height="7.85" fill="#27aae1"/>
<text x="338.10" y="535.33" font-size="8.7" text-anchor="end" textLength="48.90" lengthAdjust="spacingAndGlyphs" fill="#3a3a3a" stroke="#3a3a3a" stroke-width="0.22">DNA damage</text>
<rect x="341.20" y="540.00" width="9.10" height="17.25" fill="#0f4c87"/>
<text x="338.10" y="550.83" font-size="8.7" text-anchor="end" textLength="33.90" lengthAdjust="spacingAndGlyphs" fill="#3a3a3a" stroke="#3a3a3a" stroke-width="0.22">Cell cycle</text>
<rect x="341.20" y="560.20" width="9.10" height="7.85" fill="#5a2a7e"/>
<text x="338.10" y="566.33" font-size="8.7" text-anchor="end" textLength="70.90" lengthAdjust="spacingAndGlyphs" fill="#3a3a3a" stroke="#3a3a3a" stroke-width="0.22">T cell differentiation</text>
<rect x="341.20" y="571.00" width="9.10" height="7.85" fill="#e6168c"/>
<text x="338.10" y="577.13" font-size="8.7" text-anchor="end" textLength="54.90" lengthAdjust="spacingAndGlyphs" fill="#3a3a3a" stroke="#3a3a3a" stroke-width="0.22">T cell activation</text>
<rect x="341.20" y="581.80" width="9.10" height="26.65" fill="#d1d3d4"/>
<text x="338.10" y="597.33" font-size="8.7" text-anchor="end" textLength="21.20" lengthAdjust="spacingAndGlyphs" fill="#3a3a3a" stroke="#3a3a3a" stroke-width="0.22">Other</text>
<rect x="352.70" y="441.80" width="10.10" height="7.85" fill="#2eb34b"/>
<circle cx="357.75" cy="445.73" r="1.35" fill="#1a0a1e"/>
<rect x="364.36" y="441.80" width="10.10" height="7.85" fill="#2eb34b"/>
<circle cx="369.41" cy="445.73" r="1.35" fill="#1a0a1e"/>
<rect x="376.02" y="441.80" width="10.10" height="7.85" fill="#2eb34b"/>
<circle cx="381.07" cy="445.73" r="1.35" fill="#1a0a1e"/>
<rect x="387.68" y="441.80" width="10.10" height="7.85" fill="#d1d3d4"/>
<rect x="399.34" y="441.80" width="10.10" height="7.85" fill="#d1d3d4"/>
<rect x="411.00" y="441.80" width="10.10" height="7.85" fill="#d1d3d4"/>
<rect x="422.66" y="441.80" width="10.10" height="7.85" fill="#d1d3d4"/>
<rect x="434.32" y="441.80" width="10.10" height="7.85" fill="#d1d3d4"/>
<rect x="445.98" y="441.80" width="10.10" height="7.85" fill="#d1d3d4"/>
<rect x="457.64" y="441.80" width="10.10" height="7.85" fill="#d1d3d4"/>
<text x="471.50" y="447.93" font-size="7.5" textLength="17.30" lengthAdjust="spacingAndGlyphs" fill="#3a3a3a" stroke="#3a3a3a" stroke-width="0.22">JAK2</text>
<rect x="352.70" y="451.20" width="10.10" height="7.85" fill="#d1d3d4"/>
<rect x="364.36" y="451.20" width="10.10" height="7.85" fill="#d1d3d4"/>
<rect x="376.02" y="451.20" width="10.10" height="7.85" fill="#d1d3d4"/>
<rect x="387.68" y="451.20" width="10.10" height="7.85" fill="#5a2a7e"/>
<rect x="399.34" y="451.20" width="10.10" height="7.85" fill="#d1d3d4"/>
<rect x="411.00" y="451.20" width="10.10" height="7.85" fill="#d1d3d4"/>
<rect x="422.66" y="451.20" width="10.10" height="7.85" fill="#d1d3d4"/>
<rect x="434.32" y="451.20" width="10.10" height="7.85" fill="#d1d3d4"/>
<rect x="445.98" y="451.20" width="10.10" height="7.85" fill="#d1d3d4"/>
<rect x="457.64" y="451.20" width="10.10" height="7.85" fill="#d1d3d4"/>
<text x="471.50" y="457.32" font-size="7.5" textLength="16.70" lengthAdjust="spacingAndGlyphs" fill="#3a3a3a" stroke="#3a3a3a" stroke-width="0.22">JAK1</text>
<rect x="352.70" y="460.60" width="10.10" height="7.85" fill="#d1d3d4"/>
<rect x="364.36" y="460.60" width="10.10" height="7.85" fill="#d1d3d4"/>
<rect x="376.02" y="460.60" width="10.10" height="7.85" fill="#d1d3d4"/>
<rect x="387.68" y="460.60" width="10.10" height="7.85" fill="#d1d3d4"/>
<rect x="399.34" y="460.60" width="10.10" height="7.85" fill="#5a2a7e"/>
<rect x="411.00" y="460.60" width="10.10" height="7.85" fill="#d1d3d4"/>
<rect x="422.66" y="460.60" width="10.10" height="7.85" fill="#d1d3d4"/>
<rect x="434.32" y="460.60" width="10.10" height="7.85" fill="#d1d3d4"/>
<rect x="445.98" y="460.60" width="10.10" height="7.85" fill="#d1d3d4"/>
<rect x="457.64" y="460.60" width="10.10" height="7.85" fill="#d1d3d4"/>
<text x="471.50" y="466.72" font-size="7.5" textLength="17.30" lengthAdjust="spacingAndGlyphs" fill="#3a3a3a" stroke="#3a3a3a" stroke-width="0.22">JAK3</text>
<rect x="352.70" y="470.00" width="10.10" height="7.85" fill="#d1d3d4"/>
<rect x="364.36" y="470.00" width="10.10" height="7.85" fill="#d1d3d4"/>
<rect x="376.02" y="470.00" width="10.10" height="7.85" fill="#d1d3d4"/>
<rect x="387.68" y="470.00" width="10.10" height="7.85" fill="#d1d3d4"/>
<rect x="399.34" y="470.00" width="10.10" height="7.85" fill="#d1d3d4"/>
<rect x="411.00" y="470.00" width="10.10" height="7.85" fill="#5a2a7e"/>
<rect x="422.66" y="470.00" width="10.10" height="7.85" fill="#5a2a7e"/>
<rect x="434.32" y="470.00" width="10.10" height="7.85" fill="#d1d3d4"/>
<rect x="445.98" y="470.00" width="10.10" height="7.85" fill="#d1d3d4"/>
<rect x="457.64" y="470.00" width="10.10" height="7.85" fill="#d1d3d4"/>
<text x="471.50" y="476.12" font-size="7.5" textLength="20.50" lengthAdjust="spacingAndGlyphs" fill="#3a3a3a" stroke="#3a3a3a" stroke-width="0.22">STAT3</text>
<rect x="352.70" y="479.40" width="10.10" height="7.85" fill="#d1d3d4"/>
<rect x="364.36" y="479.40" width="10.10" height="7.85" fill="#d1d3d4"/>
<rect x="376.02" y="479.40" width="10.10" height="7.85" fill="#d1d3d4"/>
<rect x="387.68" y="479.40" width="10.10" height="7.85" fill="#d1d3d4"/>
<rect x="399.34" y="479.40" width="10.10" height="7.85" fill="#d1d3d4"/>
<rect x="411.00" y="479.40" width="10.10" height="7.85" fill="#d1d3d4"/>
<rect x="411.00" y="481.87" width="10.10" height="2.90" fill="#a5d2f1"/>
<rect x="422.66" y="479.40" width="10.10" height="7.85" fill="#d1d3d4"/>
<rect x="422.66" y="481.87" width="10.10" height="2.90" fill="#124a86"/>
<rect x="434.32" y="479.40" width="10.10" height="7.85" fill="#c71f3a"/>
<rect x="445.98" y="479.40" width="10.10" height="7.85" fill="#d1d3d4"/>
<rect x="457.64" y="479.40" width="10.10" height="7.85" fill="#d1d3d4"/>
<text x="471.50" y="485.52" font-size="7.5" textLength="23.30" lengthAdjust="spacingAndGlyphs" fill="#3a3a3a" stroke="#3a3a3a" stroke-width="0.22">SOCS1</text>
<rect x="352.70" y="488.80" width="10.10" height="7.85" fill="#d1d3d4"/>
<rect x="364.36" y="488.80" width="10.10" height="7.85" fill="#d1d3d4"/>
<rect x="376.02" y="488.80" width="10.10" height="7.85" fill="#d1d3d4"/>
<rect x="387.68" y="488.80" width="10.10" height="7.85" fill="#d1d3d4"/>
<rect x="399.34" y="488.80" width="10.10" height="7.85" fill="#d1d3d4"/>
<rect x="411.00" y="488.80" width="10.10" height="7.85" fill="#d1d3d4"/>
<rect x="422.66" y="488.80" width="10.10" height="7.85" fill="#c71f3a"/>
<rect x="434.32" y="488.80" width="10.10" height="7.85" fill="#d1d3d4"/>
<rect x="445.98" y="488.80" width="10.10" height="7.85" fill="#d1d3d4"/>
<rect x="457.64" y="488.80" width="10.10" height="7.85" fill="#d1d3d4"/>
<text x="471.50" y="494.92" font-size="7.5" textLength="21.90" lengthAdjust="spacingAndGlyphs" fill="#3a3a3a" stroke="#3a3a3a" stroke-width="0.22">SH2B3</text>
<rect x="352.70" y="499.60" width="10.10" height="7.85" fill="#c71f3a"/>
<rect x="364.36" y="499.60" width="10.10" height="7.85" fill="#d1d3d4"/>
<rect x="376.02" y="499.60" width="10.10" height="7.85" fill="#d1d3d4"/>
<rect x="387.68" y="499.60" width="10.10" height="7.85" fill="#c71f3a"/>
<rect x="399.34" y="499.60" width="10.10" height="7.85" fill="#c71f3a"/>
<rect x="411.00" y="499.60" width="10.10" height="7.85" fill="#d1d3d4"/>
<rect x="422.66" y="499.60" width="10.10" height="7.85" fill="#d1d3d4"/>
<rect x="434.32" y="499.60" width="10.10" height="7.85" fill="#d1d3d4"/>
<rect x="445.98" y="499.60" width="10.10" height="7.85" fill="#d1d3d4"/>
<rect x="457.64" y="499.60" width="10.10" height="7.85" fill="#d1d3d4"/>
<text x="471.50" y="505.72" font-size="7.5" textLength="25.50" lengthAdjust="spacingAndGlyphs" fill="#3a3a3a" stroke="#3a3a3a" stroke-width="0.22">KMT2D</text>
<rect x="352.70" y="509.00" width="10.10" height="7.85" fill="#d1d3d4"/>
<rect x="364.36" y="509.00" width="10.10" height="7.85" fill="#d1d3d4"/>
<rect x="376.02" y="509.00" width="10.10" height="7.85" fill="#d1d3d4"/>
<rect x="387.68" y="509.00" width="10.10" height="7.85" fill="#d1d3d4"/>
<rect x="399.34" y="509.00" width="10.10" height="7.85" fill="#d1d3d4"/>
<rect x="411.00" y="509.00" width="10.10" height="7.85" fill="#d1d3d4"/>
<rect x="411.00" y="511.47" width="10.10" height="2.90" fill="#124a86"/>
<rect x="422.66" y="509.00" width="10.10" height="7.85" fill="#d1d3d4"/>
<rect x="422.66" y="511.47" width="10.10" height="2.90" fill="#124a86"/>
<rect x="434.32" y="509.00" width="10.10" height="7.85" fill="#d1d3d4"/>
<rect x="445.98" y="509.00" width="10.10" height="7.85" fill="#d1d3d4"/>
<rect x="457.64" y="509.00" width="10.10" height="7.85" fill="#d1d3d4"/>
<text x="471.50" y="515.12" font-size="7.5" textLength="26.30" lengthAdjust="spacingAndGlyphs" fill="#3a3a3a" stroke="#3a3a3a" stroke-width="0.22">ARID1A</text>
<rect x="352.70" y="518.40" width="10.10" height="7.85" fill="#d1d3d4"/>
<rect x="364.36" y="518.40" width="10.10" height="7.85" fill="#d1d3d4"/>
<rect x="376.02" y="518.40" width="10.10" height="7.85" fill="#c71f3a"/>
<rect x="387.68" y="518.40" width="10.10" height="7.85" fill="#d1d3d4"/>
<rect x="399.34" y="518.40" width="10.10" height="7.85" fill="#d1d3d4"/>
<rect x="411.00" y="518.40" width="10.10" height="7.85" fill="#d1d3d4"/>
<rect x="422.66" y="518.40" width="10.10" height="7.85" fill="#d1d3d4"/>
<rect x="434.32" y="518.40" width="10.10" height="7.85" fill="#d1d3d4"/>
<rect x="445.98" y="518.40" width="10.10" height="7.85" fill="#d1d3d4"/>
<rect x="457.64" y="518.40" width="10.10" height="7.85" fill="#d1d3d4"/>
<text x="471.50" y="524.52" font-size="7.5" textLength="27.40" lengthAdjust="spacingAndGlyphs" fill="#3a3a3a" stroke="#3a3a3a" stroke-width="0.22">CREBBP</text>
<rect x="352.70" y="529.20" width="10.10" height="7.85" fill="#d1d3d4"/>
<rect x="364.36" y="529.20" width="10.10" height="7.85" fill="#d1d3d4"/>
<rect x="376.02" y="529.20" width="10.10" height="7.85" fill="#d1d3d4"/>
<rect x="387.68" y="529.20" width="10.10" height="7.85" fill="#d1d3d4"/>
<rect x="387.68" y="531.67" width="10.10" height="2.90" fill="#124a86"/>
<rect x="399.34" y="529.20" width="10.10" height="7.85" fill="#d1d3d4"/>
<rect x="399.34" y="531.67" width="10.10" height="2.90" fill="#124a86"/>
<rect x="411.00" y="529.20" width="10.10" height="7.85" fill="#d1d3d4"/>
<rect x="422.66" y="529.20" width="10.10" height="7.85" fill="#d1d3d4"/>
<rect x="434.32" y="529.20" width="10.10" height="7.85" fill="#d1d3d4"/>
<rect x="445.98" y="529.20" width="10.10" height="7.85" fill="#d1d3d4"/>
<rect x="457.64" y="529.20" width="10.10" height="7.85" fill="#d1d3d4"/>
<text x="471.50" y="535.32" font-size="7.5" textLength="15.30" lengthAdjust="spacingAndGlyphs" fill="#3a3a3a" stroke="#3a3a3a" stroke-width="0.22">ATM</text>
<rect x="352.70" y="540.00" width="10.10" height="7.85" fill="#d1d3d4"/>
<rect x="352.70" y="542.47" width="10.10" height="2.90" fill="#a5d2f1"/>
<rect x="364.36" y="540.00" width="10.10" height="7.85" fill="#d1d3d4"/>
<rect x="364.36" y="542.47" width="10.10" height="2.90" fill="#124a86"/>
<rect x="376.02" y="540.00" width="10.10" height="7.85" fill="#c71f3a"/>
<rect x="387.68" y="540.00" width="10.10" height="7.85" fill="#d1d3d4"/>
<rect x="399.34" y="540.00" width="10.10" height="7.85" fill="#d1d3d4"/>
<rect x="399.34" y="542.47" width="10.10" height="2.90" fill="#124a86"/>
<rect x="411.00" y="540.00" width="10.10" height="7.85" fill="#d1d3d4"/>
<rect x="411.00" y="542.47" width="10.10" height="2.90" fill="#a5d2f1"/>
<rect x="422.66" y="540.00" width="10.10" height="7.85" fill="#d1d3d4"/>
<rect x="422.66" y="542.47" width="10.10" height="2.90" fill="#124a86"/>
<rect x="434.32" y="540.00" width="10.10" height="7.85" fill="#d1d3d4"/>
<rect x="445.98" y="540.00" width="10.10" height="7.85" fill="#d1d3d4"/>
<rect x="457.64" y="540.00" width="10.10" height="7.85" fill="#d1d3d4"/>
<text x="471.50" y="546.12" font-size="7.5" textLength="30.10" lengthAdjust="spacingAndGlyphs" fill="#3a3a3a" stroke="#3a3a3a" stroke-width="0.22">CDKN2A</text>
<rect x="352.70" y="549.40" width="10.10" height="7.85" fill="#d1d3d4"/>
<rect x="364.36" y="549.40" width="10.10" height="7.85" fill="#d1d3d4"/>
<rect x="376.02" y="549.40" width="10.10" height="7.85" fill="#d1d3d4"/>
<rect x="387.68" y="549.40" width="10.10" height="7.85" fill="#d1d3d4"/>
<rect x="399.34" y="549.40" width="10.10" height="7.85" fill="#d1d3d4"/>
<rect x="411.00" y="549.40" width="10.10" height="7.85" fill="#d1d3d4"/>
<rect x="422.66" y="549.40" width="10.10" height="7.85" fill="#c71f3a"/>
<rect x="434.32" y="549.40" width="10.10" height="7.85" fill="#d1d3d4"/>
<rect x="445.98" y="549.40" width="10.10" height="7.85" fill="#d1d3d4"/>
<rect x="457.64" y="549.40" width="10.10" height="7.85" fill="#d1d3d4"/>
<text x="471.50" y="555.52" font-size="7.5" textLength="29.60" lengthAdjust="spacingAndGlyphs" fill="#3a3a3a" stroke="#3a3a3a" stroke-width="0.22">CDKN1B</text>
<rect x="352.70" y="560.20" width="10.10" height="7.85" fill="#d1d3d4"/>
<rect x="352.70" y="562.67" width="10.10" height="2.90" fill="#124a86"/>
<rect x="364.36" y="560.20" width="10.10" height="7.85" fill="#d1d3d4"/>
<rect x="376.02" y="560.20" width="10.10" height="7.85" fill="#d1d3d4"/>
<rect x="387.68" y="560.20" width="10.10" height="7.85" fill="#d1d3d4"/>
<rect x="399.34" y="560.20" width="10.10" height="7.85" fill="#d1d3d4"/>
<rect x="411.00" y="560.20" width="10.10" height="7.85" fill="#d1d3d4"/>
<rect x="422.66" y="560.20" width="10.10" height="7.85" fill="#d1d3d4"/>
<rect x="434.32" y="560.20" width="10.10" height="7.85" fill="#d1d3d4"/>
<rect x="445.98" y="560.20" width="10.10" height="7.85" fill="#d1d3d4"/>
<rect x="457.64" y="560.20" width="10.10" height="7.85" fill="#d1d3d4"/>
<text x="471.50" y="566.33" font-size="7.5" textLength="16.50" lengthAdjust="spacingAndGlyphs" fill="#3a3a3a" stroke="#3a3a3a" stroke-width="0.22">ZEB1</text>
<rect x="352.70" y="571.00" width="10.10" height="7.85" fill="#d1d3d4"/>
<rect x="364.36" y="571.00" width="10.10" height="7.85" fill="#d1d3d4"/>
<rect x="376.02" y="571.00" width="10.10" height="7.85" fill="#d1d3d4"/>
<rect x="387.68" y="571.00" width="10.10" height="7.85" fill="#d1d3d4"/>
<rect x="387.68" y="573.48" width="10.10" height="2.90" fill="#124a86"/>
<rect x="399.34" y="571.00" width="10.10" height="7.85" fill="#d1d3d4"/>
<rect x="411.00" y="571.00" width="10.10" height="7.85" fill="#d1d3d4"/>
<rect x="422.66" y="571.00" width="10.10" height="7.85" fill="#d1d3d4"/>
<rect x="434.32" y="571.00" width="10.10" height="7.85" fill="#d1d3d4"/>
<rect x="445.98" y="571.00" width="10.10" height="7.85" fill="#d1d3d4"/>
<rect x="457.64" y="571.00" width="10.10" height="7.85" fill="#d1d3d4"/>
<text x="471.50" y="577.13" font-size="7.5" textLength="24.10" lengthAdjust="spacingAndGlyphs" fill="#3a3a3a" stroke="#3a3a3a" stroke-width="0.22">PDCD1</text>
<rect x="352.70" y="581.80" width="10.10" height="7.85" fill="#d1d3d4"/>
<rect x="364.36" y="581.80" width="10.10" height="7.85" fill="#d1d3d4"/>
<rect x="364.36" y="584.28" width="10.10" height="2.90" fill="#124a86"/>
<rect x="376.02" y="581.80" width="10.10" height="7.85" fill="#d1d3d4"/>
<rect x="387.68" y="581.80" width="10.10" height="7.85" fill="#d1d3d4"/>
<rect x="399.34" y="581.80" width="10.10" height="7.85" fill="#d1d3d4"/>
<rect x="411.00" y="581.80" width="10.10" height="7.85" fill="#d1d3d4"/>
<rect x="422.66" y="581.80" width="10.10" height="7.85" fill="#d1d3d4"/>
<rect x="434.32" y="581.80" width="10.10" height="7.85" fill="#d1d3d4"/>
<rect x="445.98" y="581.80" width="10.10" height="7.85" fill="#d1d3d4"/>
<rect x="457.64" y="581.80" width="10.10" height="7.85" fill="#d1d3d4"/>
<rect x="457.64" y="584.28" width="10.10" height="2.90" fill="#124a86"/>
<text x="471.50" y="587.93" font-size="7.5" textLength="23.30" lengthAdjust="spacingAndGlyphs" fill="#3a3a3a" stroke="#3a3a3a" stroke-width="0.22">MGMT</text>
<rect x="352.70" y="591.20" width="10.10" height="7.85" fill="#d1d3d4"/>
<rect x="364.36" y="591.20" width="10.10" height="7.85" fill="#d1d3d4"/>
<rect x="376.02" y="591.20" width="10.10" height="7.85" fill="#d1d3d4"/>
<rect x="387.68" y="591.20" width="10.10" height="7.85" fill="#d1d3d4"/>
<rect x="399.34" y="591.20" width="10.10" height="7.85" fill="#d1d3d4"/>
<rect x="411.00" y="591.20" width="10.10" height="7.85" fill="#5a2a7e"/>
<rect x="422.66" y="591.20" width="10.10" height="7.85" fill="#d1d3d4"/>
<rect x="434.32" y="591.20" width="10.10" height="7.85" fill="#d1d3d4"/>
<rect x="445.98" y="591.20" width="10.10" height="7.85" fill="#d1d3d4"/>
<rect x="457.64" y="591.20" width="10.10" height="7.85" fill="#d1d3d4"/>
<text x="471.50" y="597.33" font-size="7.5" textLength="19.20" lengthAdjust="spacingAndGlyphs" fill="#3a3a3a" stroke="#3a3a3a" stroke-width="0.22">JUNB</text>
<rect x="352.70" y="600.60" width="10.10" height="7.85" fill="#d1d3d4"/>
<rect x="364.36" y="600.60" width="10.10" height="7.85" fill="#d1d3d4"/>
<rect x="376.02" y="600.60" width="10.10" height="7.85" fill="#d1d3d4"/>
<rect x="387.68" y="600.60" width="10.10" height="7.85" fill="#d1d3d4"/>
<rect x="399.34" y="600.60" width="10.10" height="7.85" fill="#d1d3d4"/>
<rect x="411.00" y="600.60" width="10.10" height="7.85" fill="#d1d3d4"/>
<rect x="422.66" y="600.60" width="10.10" height="7.85" fill="#d1d3d4"/>
<rect x="434.32" y="600.60" width="10.10" height="7.85" fill="#d1d3d4"/>
<rect x="445.98" y="600.60" width="10.10" height="7.85" fill="#c71f3a"/>
<rect x="457.64" y="600.60" width="10.10" height="7.85" fill="#d1d3d4"/>
<text x="471.50" y="606.73" font-size="7.5" textLength="23.30" lengthAdjust="spacingAndGlyphs" fill="#3a3a3a" stroke="#3a3a3a" stroke-width="0.22">NR3C1</text>
<rect x="352.60" y="611.30" width="34.30" height="8.00" fill="#176b4f"/>
<rect x="386.90" y="611.30" width="81.50" height="8.00" fill="#f6b719"/>
<text x="360.35" y="621.60" font-size="7.4" text-anchor="end" fill="#3a3a3a" transform="rotate(-90 360.35 621.60)" stroke="#3a3a3a" stroke-width="0.22">NU4</text>
<text x="372.01" y="621.60" font-size="7.4" text-anchor="end" fill="#3a3a3a" transform="rotate(-90 372.01 621.60)" stroke="#3a3a3a" stroke-width="0.22">NU3</text>
<text x="383.67" y="621.60" font-size="7.4" text-anchor="end" fill="#3a3a3a" transform="rotate(-90 383.67 621.60)" stroke="#3a3a3a" stroke-width="0.22">NU1</text>
<text x="395.33" y="621.60" font-size="7.4" text-anchor="end" fill="#3a3a3a" transform="rotate(-90 395.33 621.60)" stroke="#3a3a3a" stroke-width="0.22">NU14</text>
<text x="406.99" y="621.60" font-size="7.4" text-anchor="end" fill="#3a3a3a" transform="rotate(-90 406.99 621.60)" stroke="#3a3a3a" stroke-width="0.22">NU22</text>
<text x="418.65" y="621.60" font-size="7.4" text-anchor="end" fill="#3a3a3a" transform="rotate(-90 418.65 621.60)" stroke="#3a3a3a" stroke-width="0.22">NU9</text>
<text x="430.31" y="621.60" font-size="7.4" text-anchor="end" fill="#3a3a3a" transform="rotate(-90 430.31 621.60)" stroke="#3a3a3a" stroke-width="0.22">NU11</text>
<text x="441.97" y="621.60" font-size="7.4" text-anchor="end" fill="#3a3a3a" transform="rotate(-90 441.97 621.60)" stroke="#3a3a3a" stroke-width="0.22">NU7</text>
<text x="453.63" y="621.60" font-size="7.4" text-anchor="end" fill="#3a3a3a" transform="rotate(-90 453.63 621.60)" stroke="#3a3a3a" stroke-width="0.22">NU6</text>
<text x="465.29" y="621.60" font-size="7.4" text-anchor="end" fill="#3a3a3a" transform="rotate(-90 465.29 621.60)" stroke="#3a3a3a" stroke-width="0.22">NU13</text>
<rect x="352.20" y="642.90" width="8.20" height="6.60" fill="#176b4f"/>
<text x="363.00" y="649.00" font-size="8.4" textLength="32.20" lengthAdjust="spacingAndGlyphs" fill="#3a3a3a" stroke="#3a3a3a" stroke-width="0.22">PCAETCL</text>
<rect x="412.20" y="642.90" width="8.10" height="6.60" fill="#f6b719"/>
<text x="422.60" y="649.00" font-size="8.4" textLength="36.40" lengthAdjust="spacingAndGlyphs" fill="#3a3a3a" stroke="#3a3a3a" stroke-width="0.22">CTCL-NOS</text>
<rect x="0.7" y="0.7" width="518.6" height="655.6" fill="none" stroke="#111" stroke-width="1.6"/>
</svg>
</body></html>
